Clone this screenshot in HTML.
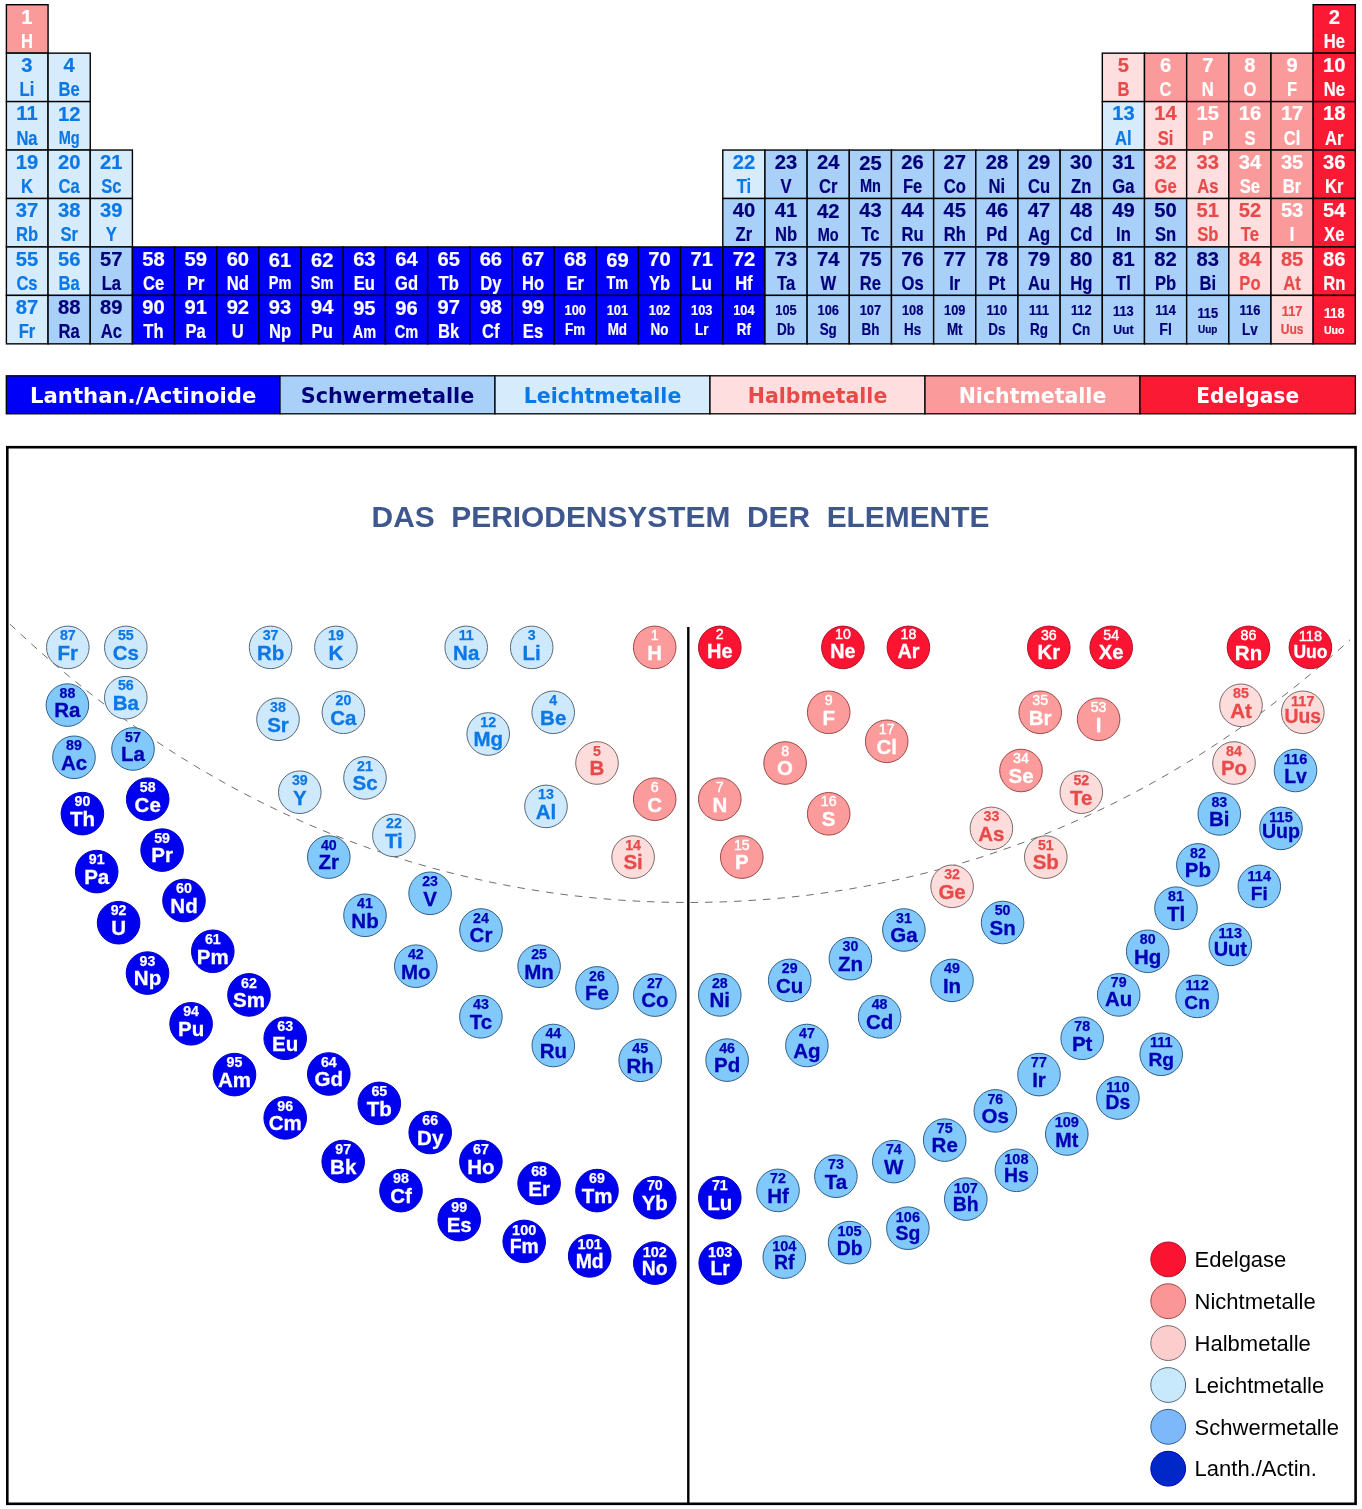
<!DOCTYPE html>
<html lang="de"><head><meta charset="utf-8"><title>Das Periodensystem der Elemente</title>
<style>html,body{margin:0;padding:0;background:#fff}svg{display:block}</style></head>
<body>
<svg width="1362" height="1509" viewBox="0 0 1362 1509" font-family="'Liberation Sans', Arial, sans-serif" font-weight="bold" text-anchor="middle">
<defs>
</defs>
<g stroke="#000" stroke-width="1.4">
<rect x="6.40" y="4.70" width="41.67" height="48.45" fill="#fb9a9a"/>
<rect x="1313.17" y="4.70" width="42.17" height="48.45" fill="#fb1a34"/>
<rect x="6.40" y="53.15" width="41.67" height="48.45" fill="#d6ebfb"/>
<rect x="48.07" y="53.15" width="42.17" height="48.45" fill="#d6ebfb"/>
<rect x="1102.32" y="53.15" width="42.17" height="48.45" fill="#fedede"/>
<rect x="1144.49" y="53.15" width="42.17" height="48.45" fill="#fb9a9a"/>
<rect x="1186.66" y="53.15" width="42.17" height="48.45" fill="#fb9a9a"/>
<rect x="1228.83" y="53.15" width="42.17" height="48.45" fill="#fb9a9a"/>
<rect x="1271.00" y="53.15" width="42.17" height="48.45" fill="#fb9a9a"/>
<rect x="1313.17" y="53.15" width="42.17" height="48.45" fill="#fb1a34"/>
<rect x="6.40" y="101.60" width="41.67" height="48.45" fill="#d6ebfb"/>
<rect x="48.07" y="101.60" width="42.17" height="48.45" fill="#d6ebfb"/>
<rect x="1102.32" y="101.60" width="42.17" height="48.45" fill="#d6ebfb"/>
<rect x="1144.49" y="101.60" width="42.17" height="48.45" fill="#fedede"/>
<rect x="1186.66" y="101.60" width="42.17" height="48.45" fill="#fb9a9a"/>
<rect x="1228.83" y="101.60" width="42.17" height="48.45" fill="#fb9a9a"/>
<rect x="1271.00" y="101.60" width="42.17" height="48.45" fill="#fb9a9a"/>
<rect x="1313.17" y="101.60" width="42.17" height="48.45" fill="#fb1a34"/>
<rect x="6.40" y="150.05" width="41.67" height="48.45" fill="#d6ebfb"/>
<rect x="48.07" y="150.05" width="42.17" height="48.45" fill="#d6ebfb"/>
<rect x="90.24" y="150.05" width="42.17" height="48.45" fill="#d6ebfb"/>
<rect x="722.79" y="150.05" width="42.17" height="48.45" fill="#d6ebfb"/>
<rect x="764.96" y="150.05" width="42.17" height="48.45" fill="#a9d0f8"/>
<rect x="807.13" y="150.05" width="42.17" height="48.45" fill="#a9d0f8"/>
<rect x="849.30" y="150.05" width="42.17" height="48.45" fill="#a9d0f8"/>
<rect x="891.47" y="150.05" width="42.17" height="48.45" fill="#a9d0f8"/>
<rect x="933.64" y="150.05" width="42.17" height="48.45" fill="#a9d0f8"/>
<rect x="975.81" y="150.05" width="42.17" height="48.45" fill="#a9d0f8"/>
<rect x="1017.98" y="150.05" width="42.17" height="48.45" fill="#a9d0f8"/>
<rect x="1060.15" y="150.05" width="42.17" height="48.45" fill="#a9d0f8"/>
<rect x="1102.32" y="150.05" width="42.17" height="48.45" fill="#a9d0f8"/>
<rect x="1144.49" y="150.05" width="42.17" height="48.45" fill="#fedede"/>
<rect x="1186.66" y="150.05" width="42.17" height="48.45" fill="#fedede"/>
<rect x="1228.83" y="150.05" width="42.17" height="48.45" fill="#fb9a9a"/>
<rect x="1271.00" y="150.05" width="42.17" height="48.45" fill="#fb9a9a"/>
<rect x="1313.17" y="150.05" width="42.17" height="48.45" fill="#fb1a34"/>
<rect x="6.40" y="198.50" width="41.67" height="48.45" fill="#d6ebfb"/>
<rect x="48.07" y="198.50" width="42.17" height="48.45" fill="#d6ebfb"/>
<rect x="90.24" y="198.50" width="42.17" height="48.45" fill="#d6ebfb"/>
<rect x="722.79" y="198.50" width="42.17" height="48.45" fill="#a9d0f8"/>
<rect x="764.96" y="198.50" width="42.17" height="48.45" fill="#a9d0f8"/>
<rect x="807.13" y="198.50" width="42.17" height="48.45" fill="#a9d0f8"/>
<rect x="849.30" y="198.50" width="42.17" height="48.45" fill="#a9d0f8"/>
<rect x="891.47" y="198.50" width="42.17" height="48.45" fill="#a9d0f8"/>
<rect x="933.64" y="198.50" width="42.17" height="48.45" fill="#a9d0f8"/>
<rect x="975.81" y="198.50" width="42.17" height="48.45" fill="#a9d0f8"/>
<rect x="1017.98" y="198.50" width="42.17" height="48.45" fill="#a9d0f8"/>
<rect x="1060.15" y="198.50" width="42.17" height="48.45" fill="#a9d0f8"/>
<rect x="1102.32" y="198.50" width="42.17" height="48.45" fill="#a9d0f8"/>
<rect x="1144.49" y="198.50" width="42.17" height="48.45" fill="#a9d0f8"/>
<rect x="1186.66" y="198.50" width="42.17" height="48.45" fill="#fedede"/>
<rect x="1228.83" y="198.50" width="42.17" height="48.45" fill="#fedede"/>
<rect x="1271.00" y="198.50" width="42.17" height="48.45" fill="#fb9a9a"/>
<rect x="1313.17" y="198.50" width="42.17" height="48.45" fill="#fb1a34"/>
<rect x="6.40" y="246.95" width="41.67" height="48.45" fill="#d6ebfb"/>
<rect x="48.07" y="246.95" width="42.17" height="48.45" fill="#d6ebfb"/>
<rect x="90.24" y="246.95" width="42.17" height="48.45" fill="#a9d0f8"/>
<rect x="132.41" y="246.95" width="42.17" height="48.45" fill="#0000f8"/>
<rect x="174.58" y="246.95" width="42.17" height="48.45" fill="#0000f8"/>
<rect x="216.75" y="246.95" width="42.17" height="48.45" fill="#0000f8"/>
<rect x="258.92" y="246.95" width="42.17" height="48.45" fill="#0000f8"/>
<rect x="301.09" y="246.95" width="42.17" height="48.45" fill="#0000f8"/>
<rect x="343.26" y="246.95" width="42.17" height="48.45" fill="#0000f8"/>
<rect x="385.43" y="246.95" width="42.17" height="48.45" fill="#0000f8"/>
<rect x="427.60" y="246.95" width="42.17" height="48.45" fill="#0000f8"/>
<rect x="469.77" y="246.95" width="42.17" height="48.45" fill="#0000f8"/>
<rect x="511.94" y="246.95" width="42.17" height="48.45" fill="#0000f8"/>
<rect x="554.11" y="246.95" width="42.17" height="48.45" fill="#0000f8"/>
<rect x="596.28" y="246.95" width="42.17" height="48.45" fill="#0000f8"/>
<rect x="638.45" y="246.95" width="42.17" height="48.45" fill="#0000f8"/>
<rect x="680.62" y="246.95" width="42.17" height="48.45" fill="#0000f8"/>
<rect x="722.79" y="246.95" width="42.17" height="48.45" fill="#0000f8"/>
<rect x="764.96" y="246.95" width="42.17" height="48.45" fill="#a9d0f8"/>
<rect x="807.13" y="246.95" width="42.17" height="48.45" fill="#a9d0f8"/>
<rect x="849.30" y="246.95" width="42.17" height="48.45" fill="#a9d0f8"/>
<rect x="891.47" y="246.95" width="42.17" height="48.45" fill="#a9d0f8"/>
<rect x="933.64" y="246.95" width="42.17" height="48.45" fill="#a9d0f8"/>
<rect x="975.81" y="246.95" width="42.17" height="48.45" fill="#a9d0f8"/>
<rect x="1017.98" y="246.95" width="42.17" height="48.45" fill="#a9d0f8"/>
<rect x="1060.15" y="246.95" width="42.17" height="48.45" fill="#a9d0f8"/>
<rect x="1102.32" y="246.95" width="42.17" height="48.45" fill="#a9d0f8"/>
<rect x="1144.49" y="246.95" width="42.17" height="48.45" fill="#a9d0f8"/>
<rect x="1186.66" y="246.95" width="42.17" height="48.45" fill="#a9d0f8"/>
<rect x="1228.83" y="246.95" width="42.17" height="48.45" fill="#fedede"/>
<rect x="1271.00" y="246.95" width="42.17" height="48.45" fill="#fedede"/>
<rect x="1313.17" y="246.95" width="42.17" height="48.45" fill="#fb1a34"/>
<rect x="6.40" y="295.40" width="41.67" height="48.45" fill="#d6ebfb"/>
<rect x="48.07" y="295.40" width="42.17" height="48.45" fill="#a9d0f8"/>
<rect x="90.24" y="295.40" width="42.17" height="48.45" fill="#a9d0f8"/>
<rect x="132.41" y="295.40" width="42.17" height="48.45" fill="#0000f8"/>
<rect x="174.58" y="295.40" width="42.17" height="48.45" fill="#0000f8"/>
<rect x="216.75" y="295.40" width="42.17" height="48.45" fill="#0000f8"/>
<rect x="258.92" y="295.40" width="42.17" height="48.45" fill="#0000f8"/>
<rect x="301.09" y="295.40" width="42.17" height="48.45" fill="#0000f8"/>
<rect x="343.26" y="295.40" width="42.17" height="48.45" fill="#0000f8"/>
<rect x="385.43" y="295.40" width="42.17" height="48.45" fill="#0000f8"/>
<rect x="427.60" y="295.40" width="42.17" height="48.45" fill="#0000f8"/>
<rect x="469.77" y="295.40" width="42.17" height="48.45" fill="#0000f8"/>
<rect x="511.94" y="295.40" width="42.17" height="48.45" fill="#0000f8"/>
<rect x="554.11" y="295.40" width="42.17" height="48.45" fill="#0000f8"/>
<rect x="596.28" y="295.40" width="42.17" height="48.45" fill="#0000f8"/>
<rect x="638.45" y="295.40" width="42.17" height="48.45" fill="#0000f8"/>
<rect x="680.62" y="295.40" width="42.17" height="48.45" fill="#0000f8"/>
<rect x="722.79" y="295.40" width="42.17" height="48.45" fill="#0000f8"/>
<rect x="764.96" y="295.40" width="42.17" height="48.45" fill="#a9d0f8"/>
<rect x="807.13" y="295.40" width="42.17" height="48.45" fill="#a9d0f8"/>
<rect x="849.30" y="295.40" width="42.17" height="48.45" fill="#a9d0f8"/>
<rect x="891.47" y="295.40" width="42.17" height="48.45" fill="#a9d0f8"/>
<rect x="933.64" y="295.40" width="42.17" height="48.45" fill="#a9d0f8"/>
<rect x="975.81" y="295.40" width="42.17" height="48.45" fill="#a9d0f8"/>
<rect x="1017.98" y="295.40" width="42.17" height="48.45" fill="#a9d0f8"/>
<rect x="1060.15" y="295.40" width="42.17" height="48.45" fill="#a9d0f8"/>
<rect x="1102.32" y="295.40" width="42.17" height="48.45" fill="#a9d0f8"/>
<rect x="1144.49" y="295.40" width="42.17" height="48.45" fill="#a9d0f8"/>
<rect x="1186.66" y="295.40" width="42.17" height="48.45" fill="#a9d0f8"/>
<rect x="1228.83" y="295.40" width="42.17" height="48.45" fill="#a9d0f8"/>
<rect x="1271.00" y="295.40" width="42.17" height="48.45" fill="#fedede"/>
<rect x="1313.17" y="295.40" width="42.17" height="48.45" fill="#fb1a34"/>
</g>
<text transform="translate(26.98 23.50) scale(1.03 1)" font-size="19.6" fill="#ffffff" stroke="#ffffff" stroke-width="0.2">1</text>
<text transform="translate(26.98 47.60) scale(0.83 1)" font-size="20" fill="#ffffff" stroke="#ffffff" stroke-width="0.2">H</text>
<text transform="translate(1334.26 23.50) scale(1.03 1)" font-size="19.6" fill="#ffffff" stroke="#ffffff" stroke-width="0.2">2</text>
<text transform="translate(1334.26 47.60) scale(0.83 1)" font-size="20" fill="#ffffff" stroke="#ffffff" stroke-width="0.2">He</text>
<text transform="translate(26.98 71.95) scale(1.03 1)" font-size="19.6" fill="#0c78e6" stroke="#0c78e6" stroke-width="0.2">3</text>
<text transform="translate(26.98 96.05) scale(0.83 1)" font-size="20" fill="#0c78e6" stroke="#0c78e6" stroke-width="0.2">Li</text>
<text transform="translate(69.16 71.95) scale(1.03 1)" font-size="19.6" fill="#0c78e6" stroke="#0c78e6" stroke-width="0.2">4</text>
<text transform="translate(69.16 96.05) scale(0.83 1)" font-size="20" fill="#0c78e6" stroke="#0c78e6" stroke-width="0.2">Be</text>
<text transform="translate(1123.41 71.95) scale(1.03 1)" font-size="19.6" fill="#e84a4a" stroke="#e84a4a" stroke-width="0.2">5</text>
<text transform="translate(1123.41 96.05) scale(0.83 1)" font-size="20" fill="#e84a4a" stroke="#e84a4a" stroke-width="0.2">B</text>
<text transform="translate(1165.58 71.95) scale(1.03 1)" font-size="19.6" fill="#ffffff" stroke="#ffffff" stroke-width="0.2">6</text>
<text transform="translate(1165.58 96.05) scale(0.83 1)" font-size="20" fill="#ffffff" stroke="#ffffff" stroke-width="0.2">C</text>
<text transform="translate(1207.75 71.95) scale(1.03 1)" font-size="19.6" fill="#ffffff" stroke="#ffffff" stroke-width="0.2">7</text>
<text transform="translate(1207.75 96.05) scale(0.83 1)" font-size="20" fill="#ffffff" stroke="#ffffff" stroke-width="0.2">N</text>
<text transform="translate(1249.92 71.95) scale(1.03 1)" font-size="19.6" fill="#ffffff" stroke="#ffffff" stroke-width="0.2">8</text>
<text transform="translate(1249.92 96.05) scale(0.83 1)" font-size="20" fill="#ffffff" stroke="#ffffff" stroke-width="0.2">O</text>
<text transform="translate(1292.09 71.95) scale(1.03 1)" font-size="19.6" fill="#ffffff" stroke="#ffffff" stroke-width="0.2">9</text>
<text transform="translate(1292.09 96.05) scale(0.83 1)" font-size="20" fill="#ffffff" stroke="#ffffff" stroke-width="0.2">F</text>
<text transform="translate(1334.26 71.95) scale(1.03 1)" font-size="19.6" fill="#ffffff" stroke="#ffffff" stroke-width="0.2">10</text>
<text transform="translate(1334.26 96.05) scale(0.83 1)" font-size="20" fill="#ffffff" stroke="#ffffff" stroke-width="0.2">Ne</text>
<text transform="translate(26.98 120.40) scale(1.03 1)" font-size="19.6" fill="#0c78e6" stroke="#0c78e6" stroke-width="0.2">11</text>
<text transform="translate(26.98 144.50) scale(0.83 1)" font-size="20" fill="#0c78e6" stroke="#0c78e6" stroke-width="0.2">Na</text>
<text transform="translate(69.16 121.20) scale(1.03 1)" font-size="19.6" fill="#0c78e6" stroke="#0c78e6" stroke-width="0.2">12</text>
<text transform="translate(69.16 144.00) scale(0.83 1)" font-size="17.5" fill="#0c78e6" stroke="#0c78e6" stroke-width="0.2">Mg</text>
<text transform="translate(1123.41 120.40) scale(1.03 1)" font-size="19.6" fill="#0c78e6" stroke="#0c78e6" stroke-width="0.2">13</text>
<text transform="translate(1123.41 144.50) scale(0.83 1)" font-size="20" fill="#0c78e6" stroke="#0c78e6" stroke-width="0.2">Al</text>
<text transform="translate(1165.58 120.40) scale(1.03 1)" font-size="19.6" fill="#e84a4a" stroke="#e84a4a" stroke-width="0.2">14</text>
<text transform="translate(1165.58 144.50) scale(0.83 1)" font-size="20" fill="#e84a4a" stroke="#e84a4a" stroke-width="0.2">Si</text>
<text transform="translate(1207.75 120.40) scale(1.03 1)" font-size="19.6" fill="#ffffff" stroke="#ffffff" stroke-width="0.2">15</text>
<text transform="translate(1207.75 144.50) scale(0.83 1)" font-size="20" fill="#ffffff" stroke="#ffffff" stroke-width="0.2">P</text>
<text transform="translate(1249.92 120.40) scale(1.03 1)" font-size="19.6" fill="#ffffff" stroke="#ffffff" stroke-width="0.2">16</text>
<text transform="translate(1249.92 144.50) scale(0.83 1)" font-size="20" fill="#ffffff" stroke="#ffffff" stroke-width="0.2">S</text>
<text transform="translate(1292.09 120.40) scale(1.03 1)" font-size="19.6" fill="#ffffff" stroke="#ffffff" stroke-width="0.2">17</text>
<text transform="translate(1292.09 144.50) scale(0.83 1)" font-size="20" fill="#ffffff" stroke="#ffffff" stroke-width="0.2">Cl</text>
<text transform="translate(1334.26 120.40) scale(1.03 1)" font-size="19.6" fill="#ffffff" stroke="#ffffff" stroke-width="0.2">18</text>
<text transform="translate(1334.26 144.50) scale(0.83 1)" font-size="20" fill="#ffffff" stroke="#ffffff" stroke-width="0.2">Ar</text>
<text transform="translate(26.98 168.85) scale(1.03 1)" font-size="19.6" fill="#0c78e6" stroke="#0c78e6" stroke-width="0.2">19</text>
<text transform="translate(26.98 192.95) scale(0.83 1)" font-size="20" fill="#0c78e6" stroke="#0c78e6" stroke-width="0.2">K</text>
<text transform="translate(69.16 168.85) scale(1.03 1)" font-size="19.6" fill="#0c78e6" stroke="#0c78e6" stroke-width="0.2">20</text>
<text transform="translate(69.16 192.95) scale(0.83 1)" font-size="20" fill="#0c78e6" stroke="#0c78e6" stroke-width="0.2">Ca</text>
<text transform="translate(111.33 168.85) scale(1.03 1)" font-size="19.6" fill="#0c78e6" stroke="#0c78e6" stroke-width="0.2">21</text>
<text transform="translate(111.33 192.95) scale(0.83 1)" font-size="20" fill="#0c78e6" stroke="#0c78e6" stroke-width="0.2">Sc</text>
<text transform="translate(743.88 168.85) scale(1.03 1)" font-size="19.6" fill="#0c78e6" stroke="#0c78e6" stroke-width="0.2">22</text>
<text transform="translate(743.88 192.95) scale(0.83 1)" font-size="20" fill="#0c78e6" stroke="#0c78e6" stroke-width="0.2">Ti</text>
<text transform="translate(786.05 168.85) scale(1.03 1)" font-size="19.6" fill="#000078" stroke="#000078" stroke-width="0.2">23</text>
<text transform="translate(786.05 192.95) scale(0.83 1)" font-size="20" fill="#000078" stroke="#000078" stroke-width="0.2">V</text>
<text transform="translate(828.22 168.85) scale(1.03 1)" font-size="19.6" fill="#000078" stroke="#000078" stroke-width="0.2">24</text>
<text transform="translate(828.22 192.95) scale(0.83 1)" font-size="20" fill="#000078" stroke="#000078" stroke-width="0.2">Cr</text>
<text transform="translate(870.39 169.65) scale(1.03 1)" font-size="19.6" fill="#000078" stroke="#000078" stroke-width="0.2">25</text>
<text transform="translate(870.39 192.45) scale(0.83 1)" font-size="17.5" fill="#000078" stroke="#000078" stroke-width="0.2">Mn</text>
<text transform="translate(912.56 168.85) scale(1.03 1)" font-size="19.6" fill="#000078" stroke="#000078" stroke-width="0.2">26</text>
<text transform="translate(912.56 192.95) scale(0.83 1)" font-size="20" fill="#000078" stroke="#000078" stroke-width="0.2">Fe</text>
<text transform="translate(954.73 168.85) scale(1.03 1)" font-size="19.6" fill="#000078" stroke="#000078" stroke-width="0.2">27</text>
<text transform="translate(954.73 192.95) scale(0.83 1)" font-size="20" fill="#000078" stroke="#000078" stroke-width="0.2">Co</text>
<text transform="translate(996.90 168.85) scale(1.03 1)" font-size="19.6" fill="#000078" stroke="#000078" stroke-width="0.2">28</text>
<text transform="translate(996.90 192.95) scale(0.83 1)" font-size="20" fill="#000078" stroke="#000078" stroke-width="0.2">Ni</text>
<text transform="translate(1039.07 168.85) scale(1.03 1)" font-size="19.6" fill="#000078" stroke="#000078" stroke-width="0.2">29</text>
<text transform="translate(1039.07 192.95) scale(0.83 1)" font-size="20" fill="#000078" stroke="#000078" stroke-width="0.2">Cu</text>
<text transform="translate(1081.24 168.85) scale(1.03 1)" font-size="19.6" fill="#000078" stroke="#000078" stroke-width="0.2">30</text>
<text transform="translate(1081.24 192.95) scale(0.83 1)" font-size="20" fill="#000078" stroke="#000078" stroke-width="0.2">Zn</text>
<text transform="translate(1123.41 168.85) scale(1.03 1)" font-size="19.6" fill="#000078" stroke="#000078" stroke-width="0.2">31</text>
<text transform="translate(1123.41 192.95) scale(0.83 1)" font-size="20" fill="#000078" stroke="#000078" stroke-width="0.2">Ga</text>
<text transform="translate(1165.58 168.85) scale(1.03 1)" font-size="19.6" fill="#e84a4a" stroke="#e84a4a" stroke-width="0.2">32</text>
<text transform="translate(1165.58 192.95) scale(0.83 1)" font-size="20" fill="#e84a4a" stroke="#e84a4a" stroke-width="0.2">Ge</text>
<text transform="translate(1207.75 168.85) scale(1.03 1)" font-size="19.6" fill="#e84a4a" stroke="#e84a4a" stroke-width="0.2">33</text>
<text transform="translate(1207.75 192.95) scale(0.83 1)" font-size="20" fill="#e84a4a" stroke="#e84a4a" stroke-width="0.2">As</text>
<text transform="translate(1249.92 168.85) scale(1.03 1)" font-size="19.6" fill="#ffffff" stroke="#ffffff" stroke-width="0.2">34</text>
<text transform="translate(1249.92 192.95) scale(0.83 1)" font-size="20" fill="#ffffff" stroke="#ffffff" stroke-width="0.2">Se</text>
<text transform="translate(1292.09 168.85) scale(1.03 1)" font-size="19.6" fill="#ffffff" stroke="#ffffff" stroke-width="0.2">35</text>
<text transform="translate(1292.09 192.95) scale(0.83 1)" font-size="20" fill="#ffffff" stroke="#ffffff" stroke-width="0.2">Br</text>
<text transform="translate(1334.26 168.85) scale(1.03 1)" font-size="19.6" fill="#ffffff" stroke="#ffffff" stroke-width="0.2">36</text>
<text transform="translate(1334.26 192.95) scale(0.83 1)" font-size="20" fill="#ffffff" stroke="#ffffff" stroke-width="0.2">Kr</text>
<text transform="translate(26.98 217.30) scale(1.03 1)" font-size="19.6" fill="#0c78e6" stroke="#0c78e6" stroke-width="0.2">37</text>
<text transform="translate(26.98 241.40) scale(0.83 1)" font-size="20" fill="#0c78e6" stroke="#0c78e6" stroke-width="0.2">Rb</text>
<text transform="translate(69.16 217.30) scale(1.03 1)" font-size="19.6" fill="#0c78e6" stroke="#0c78e6" stroke-width="0.2">38</text>
<text transform="translate(69.16 241.40) scale(0.83 1)" font-size="20" fill="#0c78e6" stroke="#0c78e6" stroke-width="0.2">Sr</text>
<text transform="translate(111.33 217.30) scale(1.03 1)" font-size="19.6" fill="#0c78e6" stroke="#0c78e6" stroke-width="0.2">39</text>
<text transform="translate(111.33 241.40) scale(0.83 1)" font-size="20" fill="#0c78e6" stroke="#0c78e6" stroke-width="0.2">Y</text>
<text transform="translate(743.88 217.30) scale(1.03 1)" font-size="19.6" fill="#000078" stroke="#000078" stroke-width="0.2">40</text>
<text transform="translate(743.88 241.40) scale(0.83 1)" font-size="20" fill="#000078" stroke="#000078" stroke-width="0.2">Zr</text>
<text transform="translate(786.05 217.30) scale(1.03 1)" font-size="19.6" fill="#000078" stroke="#000078" stroke-width="0.2">41</text>
<text transform="translate(786.05 241.40) scale(0.83 1)" font-size="20" fill="#000078" stroke="#000078" stroke-width="0.2">Nb</text>
<text transform="translate(828.22 218.10) scale(1.03 1)" font-size="19.6" fill="#000078" stroke="#000078" stroke-width="0.2">42</text>
<text transform="translate(828.22 240.90) scale(0.83 1)" font-size="17.5" fill="#000078" stroke="#000078" stroke-width="0.2">Mo</text>
<text transform="translate(870.39 217.30) scale(1.03 1)" font-size="19.6" fill="#000078" stroke="#000078" stroke-width="0.2">43</text>
<text transform="translate(870.39 241.40) scale(0.83 1)" font-size="20" fill="#000078" stroke="#000078" stroke-width="0.2">Tc</text>
<text transform="translate(912.56 217.30) scale(1.03 1)" font-size="19.6" fill="#000078" stroke="#000078" stroke-width="0.2">44</text>
<text transform="translate(912.56 241.40) scale(0.83 1)" font-size="20" fill="#000078" stroke="#000078" stroke-width="0.2">Ru</text>
<text transform="translate(954.73 217.30) scale(1.03 1)" font-size="19.6" fill="#000078" stroke="#000078" stroke-width="0.2">45</text>
<text transform="translate(954.73 241.40) scale(0.83 1)" font-size="20" fill="#000078" stroke="#000078" stroke-width="0.2">Rh</text>
<text transform="translate(996.90 217.30) scale(1.03 1)" font-size="19.6" fill="#000078" stroke="#000078" stroke-width="0.2">46</text>
<text transform="translate(996.90 241.40) scale(0.83 1)" font-size="20" fill="#000078" stroke="#000078" stroke-width="0.2">Pd</text>
<text transform="translate(1039.07 217.30) scale(1.03 1)" font-size="19.6" fill="#000078" stroke="#000078" stroke-width="0.2">47</text>
<text transform="translate(1039.07 241.40) scale(0.83 1)" font-size="20" fill="#000078" stroke="#000078" stroke-width="0.2">Ag</text>
<text transform="translate(1081.24 217.30) scale(1.03 1)" font-size="19.6" fill="#000078" stroke="#000078" stroke-width="0.2">48</text>
<text transform="translate(1081.24 241.40) scale(0.83 1)" font-size="20" fill="#000078" stroke="#000078" stroke-width="0.2">Cd</text>
<text transform="translate(1123.41 217.30) scale(1.03 1)" font-size="19.6" fill="#000078" stroke="#000078" stroke-width="0.2">49</text>
<text transform="translate(1123.41 241.40) scale(0.83 1)" font-size="20" fill="#000078" stroke="#000078" stroke-width="0.2">In</text>
<text transform="translate(1165.58 217.30) scale(1.03 1)" font-size="19.6" fill="#000078" stroke="#000078" stroke-width="0.2">50</text>
<text transform="translate(1165.58 241.40) scale(0.83 1)" font-size="20" fill="#000078" stroke="#000078" stroke-width="0.2">Sn</text>
<text transform="translate(1207.75 217.30) scale(1.03 1)" font-size="19.6" fill="#e84a4a" stroke="#e84a4a" stroke-width="0.2">51</text>
<text transform="translate(1207.75 241.40) scale(0.83 1)" font-size="20" fill="#e84a4a" stroke="#e84a4a" stroke-width="0.2">Sb</text>
<text transform="translate(1249.92 217.30) scale(1.03 1)" font-size="19.6" fill="#e84a4a" stroke="#e84a4a" stroke-width="0.2">52</text>
<text transform="translate(1249.92 241.40) scale(0.83 1)" font-size="20" fill="#e84a4a" stroke="#e84a4a" stroke-width="0.2">Te</text>
<text transform="translate(1292.09 217.30) scale(1.03 1)" font-size="19.6" fill="#ffffff" stroke="#ffffff" stroke-width="0.2">53</text>
<text transform="translate(1292.09 241.40) scale(0.83 1)" font-size="20" fill="#ffffff" stroke="#ffffff" stroke-width="0.2">I</text>
<text transform="translate(1334.26 217.30) scale(1.03 1)" font-size="19.6" fill="#ffffff" stroke="#ffffff" stroke-width="0.2">54</text>
<text transform="translate(1334.26 241.40) scale(0.83 1)" font-size="20" fill="#ffffff" stroke="#ffffff" stroke-width="0.2">Xe</text>
<text transform="translate(26.98 265.75) scale(1.03 1)" font-size="19.6" fill="#0c78e6" stroke="#0c78e6" stroke-width="0.2">55</text>
<text transform="translate(26.98 289.85) scale(0.83 1)" font-size="20" fill="#0c78e6" stroke="#0c78e6" stroke-width="0.2">Cs</text>
<text transform="translate(69.16 265.75) scale(1.03 1)" font-size="19.6" fill="#0c78e6" stroke="#0c78e6" stroke-width="0.2">56</text>
<text transform="translate(69.16 289.85) scale(0.83 1)" font-size="20" fill="#0c78e6" stroke="#0c78e6" stroke-width="0.2">Ba</text>
<text transform="translate(111.33 265.75) scale(1.03 1)" font-size="19.6" fill="#000078" stroke="#000078" stroke-width="0.2">57</text>
<text transform="translate(111.33 289.85) scale(0.83 1)" font-size="20" fill="#000078" stroke="#000078" stroke-width="0.2">La</text>
<text transform="translate(153.50 265.75) scale(1.03 1)" font-size="19.6" fill="#ffffff" stroke="#ffffff" stroke-width="0.2">58</text>
<text transform="translate(153.50 289.85) scale(0.83 1)" font-size="20" fill="#ffffff" stroke="#ffffff" stroke-width="0.2">Ce</text>
<text transform="translate(195.67 265.75) scale(1.03 1)" font-size="19.6" fill="#ffffff" stroke="#ffffff" stroke-width="0.2">59</text>
<text transform="translate(195.67 289.85) scale(0.83 1)" font-size="20" fill="#ffffff" stroke="#ffffff" stroke-width="0.2">Pr</text>
<text transform="translate(237.84 265.75) scale(1.03 1)" font-size="19.6" fill="#ffffff" stroke="#ffffff" stroke-width="0.2">60</text>
<text transform="translate(237.84 289.85) scale(0.83 1)" font-size="20" fill="#ffffff" stroke="#ffffff" stroke-width="0.2">Nd</text>
<text transform="translate(280.00 266.55) scale(1.03 1)" font-size="19.6" fill="#ffffff" stroke="#ffffff" stroke-width="0.2">61</text>
<text transform="translate(280.00 289.35) scale(0.83 1)" font-size="17.5" fill="#ffffff" stroke="#ffffff" stroke-width="0.2">Pm</text>
<text transform="translate(322.17 266.55) scale(1.03 1)" font-size="19.6" fill="#ffffff" stroke="#ffffff" stroke-width="0.2">62</text>
<text transform="translate(322.17 289.35) scale(0.83 1)" font-size="17.5" fill="#ffffff" stroke="#ffffff" stroke-width="0.2">Sm</text>
<text transform="translate(364.34 265.75) scale(1.03 1)" font-size="19.6" fill="#ffffff" stroke="#ffffff" stroke-width="0.2">63</text>
<text transform="translate(364.34 289.85) scale(0.83 1)" font-size="20" fill="#ffffff" stroke="#ffffff" stroke-width="0.2">Eu</text>
<text transform="translate(406.51 265.75) scale(1.03 1)" font-size="19.6" fill="#ffffff" stroke="#ffffff" stroke-width="0.2">64</text>
<text transform="translate(406.51 289.85) scale(0.83 1)" font-size="20" fill="#ffffff" stroke="#ffffff" stroke-width="0.2">Gd</text>
<text transform="translate(448.69 265.75) scale(1.03 1)" font-size="19.6" fill="#ffffff" stroke="#ffffff" stroke-width="0.2">65</text>
<text transform="translate(448.69 289.85) scale(0.83 1)" font-size="20" fill="#ffffff" stroke="#ffffff" stroke-width="0.2">Tb</text>
<text transform="translate(490.85 265.75) scale(1.03 1)" font-size="19.6" fill="#ffffff" stroke="#ffffff" stroke-width="0.2">66</text>
<text transform="translate(490.85 289.85) scale(0.83 1)" font-size="20" fill="#ffffff" stroke="#ffffff" stroke-width="0.2">Dy</text>
<text transform="translate(533.02 265.75) scale(1.03 1)" font-size="19.6" fill="#ffffff" stroke="#ffffff" stroke-width="0.2">67</text>
<text transform="translate(533.02 289.85) scale(0.83 1)" font-size="20" fill="#ffffff" stroke="#ffffff" stroke-width="0.2">Ho</text>
<text transform="translate(575.20 265.75) scale(1.03 1)" font-size="19.6" fill="#ffffff" stroke="#ffffff" stroke-width="0.2">68</text>
<text transform="translate(575.20 289.85) scale(0.83 1)" font-size="20" fill="#ffffff" stroke="#ffffff" stroke-width="0.2">Er</text>
<text transform="translate(617.37 266.55) scale(1.03 1)" font-size="19.6" fill="#ffffff" stroke="#ffffff" stroke-width="0.2">69</text>
<text transform="translate(617.37 289.35) scale(0.83 1)" font-size="17.5" fill="#ffffff" stroke="#ffffff" stroke-width="0.2">Tm</text>
<text transform="translate(659.54 265.75) scale(1.03 1)" font-size="19.6" fill="#ffffff" stroke="#ffffff" stroke-width="0.2">70</text>
<text transform="translate(659.54 289.85) scale(0.83 1)" font-size="20" fill="#ffffff" stroke="#ffffff" stroke-width="0.2">Yb</text>
<text transform="translate(701.71 265.75) scale(1.03 1)" font-size="19.6" fill="#ffffff" stroke="#ffffff" stroke-width="0.2">71</text>
<text transform="translate(701.71 289.85) scale(0.83 1)" font-size="20" fill="#ffffff" stroke="#ffffff" stroke-width="0.2">Lu</text>
<text transform="translate(743.88 265.75) scale(1.03 1)" font-size="19.6" fill="#ffffff" stroke="#ffffff" stroke-width="0.2">72</text>
<text transform="translate(743.88 289.85) scale(0.83 1)" font-size="20" fill="#ffffff" stroke="#ffffff" stroke-width="0.2">Hf</text>
<text transform="translate(786.05 265.75) scale(1.03 1)" font-size="19.6" fill="#000078" stroke="#000078" stroke-width="0.2">73</text>
<text transform="translate(786.05 289.85) scale(0.83 1)" font-size="20" fill="#000078" stroke="#000078" stroke-width="0.2">Ta</text>
<text transform="translate(828.22 265.75) scale(1.03 1)" font-size="19.6" fill="#000078" stroke="#000078" stroke-width="0.2">74</text>
<text transform="translate(828.22 289.85) scale(0.83 1)" font-size="20" fill="#000078" stroke="#000078" stroke-width="0.2">W</text>
<text transform="translate(870.39 265.75) scale(1.03 1)" font-size="19.6" fill="#000078" stroke="#000078" stroke-width="0.2">75</text>
<text transform="translate(870.39 289.85) scale(0.83 1)" font-size="20" fill="#000078" stroke="#000078" stroke-width="0.2">Re</text>
<text transform="translate(912.56 265.75) scale(1.03 1)" font-size="19.6" fill="#000078" stroke="#000078" stroke-width="0.2">76</text>
<text transform="translate(912.56 289.85) scale(0.83 1)" font-size="20" fill="#000078" stroke="#000078" stroke-width="0.2">Os</text>
<text transform="translate(954.73 265.75) scale(1.03 1)" font-size="19.6" fill="#000078" stroke="#000078" stroke-width="0.2">77</text>
<text transform="translate(954.73 289.85) scale(0.83 1)" font-size="20" fill="#000078" stroke="#000078" stroke-width="0.2">Ir</text>
<text transform="translate(996.90 265.75) scale(1.03 1)" font-size="19.6" fill="#000078" stroke="#000078" stroke-width="0.2">78</text>
<text transform="translate(996.90 289.85) scale(0.83 1)" font-size="20" fill="#000078" stroke="#000078" stroke-width="0.2">Pt</text>
<text transform="translate(1039.07 265.75) scale(1.03 1)" font-size="19.6" fill="#000078" stroke="#000078" stroke-width="0.2">79</text>
<text transform="translate(1039.07 289.85) scale(0.83 1)" font-size="20" fill="#000078" stroke="#000078" stroke-width="0.2">Au</text>
<text transform="translate(1081.24 265.75) scale(1.03 1)" font-size="19.6" fill="#000078" stroke="#000078" stroke-width="0.2">80</text>
<text transform="translate(1081.24 289.85) scale(0.83 1)" font-size="20" fill="#000078" stroke="#000078" stroke-width="0.2">Hg</text>
<text transform="translate(1123.41 265.75) scale(1.03 1)" font-size="19.6" fill="#000078" stroke="#000078" stroke-width="0.2">81</text>
<text transform="translate(1123.41 289.85) scale(0.83 1)" font-size="20" fill="#000078" stroke="#000078" stroke-width="0.2">Tl</text>
<text transform="translate(1165.58 265.75) scale(1.03 1)" font-size="19.6" fill="#000078" stroke="#000078" stroke-width="0.2">82</text>
<text transform="translate(1165.58 289.85) scale(0.83 1)" font-size="20" fill="#000078" stroke="#000078" stroke-width="0.2">Pb</text>
<text transform="translate(1207.75 265.75) scale(1.03 1)" font-size="19.6" fill="#000078" stroke="#000078" stroke-width="0.2">83</text>
<text transform="translate(1207.75 289.85) scale(0.83 1)" font-size="20" fill="#000078" stroke="#000078" stroke-width="0.2">Bi</text>
<text transform="translate(1249.92 265.75) scale(1.03 1)" font-size="19.6" fill="#e84a4a" stroke="#e84a4a" stroke-width="0.2">84</text>
<text transform="translate(1249.92 289.85) scale(0.83 1)" font-size="20" fill="#e84a4a" stroke="#e84a4a" stroke-width="0.2">Po</text>
<text transform="translate(1292.09 265.75) scale(1.03 1)" font-size="19.6" fill="#e84a4a" stroke="#e84a4a" stroke-width="0.2">85</text>
<text transform="translate(1292.09 289.85) scale(0.83 1)" font-size="20" fill="#e84a4a" stroke="#e84a4a" stroke-width="0.2">At</text>
<text transform="translate(1334.26 265.75) scale(1.03 1)" font-size="19.6" fill="#ffffff" stroke="#ffffff" stroke-width="0.2">86</text>
<text transform="translate(1334.26 289.85) scale(0.83 1)" font-size="20" fill="#ffffff" stroke="#ffffff" stroke-width="0.2">Rn</text>
<text transform="translate(26.98 314.20) scale(1.03 1)" font-size="19.6" fill="#0c78e6" stroke="#0c78e6" stroke-width="0.2">87</text>
<text transform="translate(26.98 338.30) scale(0.83 1)" font-size="20" fill="#0c78e6" stroke="#0c78e6" stroke-width="0.2">Fr</text>
<text transform="translate(69.16 314.20) scale(1.03 1)" font-size="19.6" fill="#000078" stroke="#000078" stroke-width="0.2">88</text>
<text transform="translate(69.16 338.30) scale(0.83 1)" font-size="20" fill="#000078" stroke="#000078" stroke-width="0.2">Ra</text>
<text transform="translate(111.33 314.20) scale(1.03 1)" font-size="19.6" fill="#000078" stroke="#000078" stroke-width="0.2">89</text>
<text transform="translate(111.33 338.30) scale(0.83 1)" font-size="20" fill="#000078" stroke="#000078" stroke-width="0.2">Ac</text>
<text transform="translate(153.50 314.20) scale(1.03 1)" font-size="19.6" fill="#ffffff" stroke="#ffffff" stroke-width="0.2">90</text>
<text transform="translate(153.50 338.30) scale(0.83 1)" font-size="20" fill="#ffffff" stroke="#ffffff" stroke-width="0.2">Th</text>
<text transform="translate(195.67 314.20) scale(1.03 1)" font-size="19.6" fill="#ffffff" stroke="#ffffff" stroke-width="0.2">91</text>
<text transform="translate(195.67 338.30) scale(0.83 1)" font-size="20" fill="#ffffff" stroke="#ffffff" stroke-width="0.2">Pa</text>
<text transform="translate(237.84 314.20) scale(1.03 1)" font-size="19.6" fill="#ffffff" stroke="#ffffff" stroke-width="0.2">92</text>
<text transform="translate(237.84 338.30) scale(0.83 1)" font-size="20" fill="#ffffff" stroke="#ffffff" stroke-width="0.2">U</text>
<text transform="translate(280.00 314.20) scale(1.03 1)" font-size="19.6" fill="#ffffff" stroke="#ffffff" stroke-width="0.2">93</text>
<text transform="translate(280.00 338.30) scale(0.83 1)" font-size="20" fill="#ffffff" stroke="#ffffff" stroke-width="0.2">Np</text>
<text transform="translate(322.17 314.20) scale(1.03 1)" font-size="19.6" fill="#ffffff" stroke="#ffffff" stroke-width="0.2">94</text>
<text transform="translate(322.17 338.30) scale(0.83 1)" font-size="20" fill="#ffffff" stroke="#ffffff" stroke-width="0.2">Pu</text>
<text transform="translate(364.34 315.00) scale(1.03 1)" font-size="19.6" fill="#ffffff" stroke="#ffffff" stroke-width="0.2">95</text>
<text transform="translate(364.34 337.80) scale(0.83 1)" font-size="17.5" fill="#ffffff" stroke="#ffffff" stroke-width="0.2">Am</text>
<text transform="translate(406.51 315.00) scale(1.03 1)" font-size="19.6" fill="#ffffff" stroke="#ffffff" stroke-width="0.2">96</text>
<text transform="translate(406.51 337.80) scale(0.83 1)" font-size="17.5" fill="#ffffff" stroke="#ffffff" stroke-width="0.2">Cm</text>
<text transform="translate(448.69 314.20) scale(1.03 1)" font-size="19.6" fill="#ffffff" stroke="#ffffff" stroke-width="0.2">97</text>
<text transform="translate(448.69 338.30) scale(0.83 1)" font-size="20" fill="#ffffff" stroke="#ffffff" stroke-width="0.2">Bk</text>
<text transform="translate(490.85 314.20) scale(1.03 1)" font-size="19.6" fill="#ffffff" stroke="#ffffff" stroke-width="0.2">98</text>
<text transform="translate(490.85 338.30) scale(0.83 1)" font-size="20" fill="#ffffff" stroke="#ffffff" stroke-width="0.2">Cf</text>
<text transform="translate(533.02 314.20) scale(1.03 1)" font-size="19.6" fill="#ffffff" stroke="#ffffff" stroke-width="0.2">99</text>
<text transform="translate(533.02 338.30) scale(0.83 1)" font-size="20" fill="#ffffff" stroke="#ffffff" stroke-width="0.2">Es</text>
<text transform="translate(575.20 314.60) scale(0.89 1)" font-size="14.4" fill="#ffffff" stroke="#ffffff" stroke-width="0.2">100</text>
<text transform="translate(575.20 335.00) scale(0.83 1)" font-size="16.2" fill="#ffffff" stroke="#ffffff" stroke-width="0.2">Fm</text>
<text transform="translate(617.37 314.60) scale(0.89 1)" font-size="14.4" fill="#ffffff" stroke="#ffffff" stroke-width="0.2">101</text>
<text transform="translate(617.37 335.00) scale(0.83 1)" font-size="16.2" fill="#ffffff" stroke="#ffffff" stroke-width="0.2">Md</text>
<text transform="translate(659.54 314.60) scale(0.89 1)" font-size="14.4" fill="#ffffff" stroke="#ffffff" stroke-width="0.2">102</text>
<text transform="translate(659.54 335.00) scale(0.83 1)" font-size="16.2" fill="#ffffff" stroke="#ffffff" stroke-width="0.2">No</text>
<text transform="translate(701.71 314.60) scale(0.89 1)" font-size="14.4" fill="#ffffff" stroke="#ffffff" stroke-width="0.2">103</text>
<text transform="translate(701.71 335.00) scale(0.83 1)" font-size="16.2" fill="#ffffff" stroke="#ffffff" stroke-width="0.2">Lr</text>
<text transform="translate(743.88 314.60) scale(0.89 1)" font-size="14.4" fill="#ffffff" stroke="#ffffff" stroke-width="0.2">104</text>
<text transform="translate(743.88 335.00) scale(0.83 1)" font-size="16.2" fill="#ffffff" stroke="#ffffff" stroke-width="0.2">Rf</text>
<text transform="translate(786.05 314.60) scale(0.89 1)" font-size="14.4" fill="#000078" stroke="#000078" stroke-width="0.2">105</text>
<text transform="translate(786.05 335.00) scale(0.83 1)" font-size="16.2" fill="#000078" stroke="#000078" stroke-width="0.2">Db</text>
<text transform="translate(828.22 314.60) scale(0.89 1)" font-size="14.4" fill="#000078" stroke="#000078" stroke-width="0.2">106</text>
<text transform="translate(828.22 335.00) scale(0.83 1)" font-size="16.2" fill="#000078" stroke="#000078" stroke-width="0.2">Sg</text>
<text transform="translate(870.39 314.60) scale(0.89 1)" font-size="14.4" fill="#000078" stroke="#000078" stroke-width="0.2">107</text>
<text transform="translate(870.39 335.00) scale(0.83 1)" font-size="16.2" fill="#000078" stroke="#000078" stroke-width="0.2">Bh</text>
<text transform="translate(912.56 314.60) scale(0.89 1)" font-size="14.4" fill="#000078" stroke="#000078" stroke-width="0.2">108</text>
<text transform="translate(912.56 335.00) scale(0.83 1)" font-size="16.2" fill="#000078" stroke="#000078" stroke-width="0.2">Hs</text>
<text transform="translate(954.73 314.60) scale(0.89 1)" font-size="14.4" fill="#000078" stroke="#000078" stroke-width="0.2">109</text>
<text transform="translate(954.73 335.00) scale(0.83 1)" font-size="16.2" fill="#000078" stroke="#000078" stroke-width="0.2">Mt</text>
<text transform="translate(996.90 314.60) scale(0.89 1)" font-size="14.4" fill="#000078" stroke="#000078" stroke-width="0.2">110</text>
<text transform="translate(996.90 335.00) scale(0.83 1)" font-size="16.2" fill="#000078" stroke="#000078" stroke-width="0.2">Ds</text>
<text transform="translate(1039.07 314.60) scale(0.89 1)" font-size="14.4" fill="#000078" stroke="#000078" stroke-width="0.2">111</text>
<text transform="translate(1039.07 335.00) scale(0.83 1)" font-size="16.2" fill="#000078" stroke="#000078" stroke-width="0.2">Rg</text>
<text transform="translate(1081.24 314.60) scale(0.89 1)" font-size="14.4" fill="#000078" stroke="#000078" stroke-width="0.2">112</text>
<text transform="translate(1081.24 335.00) scale(0.83 1)" font-size="16.2" fill="#000078" stroke="#000078" stroke-width="0.2">Cn</text>
<text transform="translate(1123.41 315.80) scale(0.89 1)" font-size="14.4" fill="#000078" stroke="#000078" stroke-width="0.2">113</text>
<text transform="translate(1123.41 334.10) scale(0.92 1)" font-size="13.4" fill="#000078" stroke="#000078" stroke-width="0.2">Uut</text>
<text transform="translate(1165.58 314.60) scale(0.89 1)" font-size="14.4" fill="#000078" stroke="#000078" stroke-width="0.2">114</text>
<text transform="translate(1165.58 335.10) scale(0.83 1)" font-size="17" fill="#000078" stroke="#000078" stroke-width="0.2">Fl</text>
<text transform="translate(1207.75 317.60) scale(0.89 1)" font-size="14.4" fill="#000078" stroke="#000078" stroke-width="0.2">115</text>
<text transform="translate(1207.75 333.10) scale(0.95 1)" font-size="10.5" fill="#000078" stroke="#000078" stroke-width="0.2">Uup</text>
<text transform="translate(1249.92 314.60) scale(0.89 1)" font-size="14.4" fill="#000078" stroke="#000078" stroke-width="0.2">116</text>
<text transform="translate(1249.92 335.00) scale(0.83 1)" font-size="16.2" fill="#000078" stroke="#000078" stroke-width="0.2">Lv</text>
<text transform="translate(1292.09 316.10) scale(0.89 1)" font-size="14.4" fill="#e84a4a" stroke="#e84a4a" stroke-width="0.2">117</text>
<text transform="translate(1292.09 333.90) scale(0.84 1)" font-size="14.4" fill="#e84a4a" stroke="#e84a4a" stroke-width="0.2">Uus</text>
<text transform="translate(1334.26 317.70) scale(0.89 1)" font-size="14.4" fill="#ffffff" stroke="#ffffff" stroke-width="0.2">118</text>
<text transform="translate(1334.26 333.80) scale(1.0 1)" font-size="10.6" fill="#ffffff" stroke="#ffffff" stroke-width="0.2">Uuo</text>
<g stroke="#000" stroke-width="1.3">
<rect x="6.3" y="375.8" width="273.7" height="38" fill="#0000f8"/>
<rect x="280" y="375.8" width="215" height="38" fill="#a9d0f8"/>
<rect x="495" y="375.8" width="215" height="38" fill="#d6ebfb"/>
<rect x="710" y="375.8" width="215" height="38" fill="#fedede"/>
<rect x="925" y="375.8" width="215" height="38" fill="#fb9a9a"/>
<rect x="1140" y="375.8" width="215.4000000000001" height="38" fill="#fb1a34"/>
</g>
<g font-family="'DejaVu Sans', Verdana, sans-serif" font-size="20.5">
<text transform="translate(143.2 403) scale(1.035 1)" fill="#ffffff">Lanthan./Actinoide</text>
<text transform="translate(387.5 403) scale(1.014 1)" fill="#000078">Schwermetalle</text>
<text transform="translate(602.5 403) scale(1.002 1)" fill="#0c78e6">Leichtmetalle</text>
<text transform="translate(817.5 403) scale(1.0 1)" fill="#e84a4a">Halbmetalle</text>
<text transform="translate(1032.5 403) scale(1.0 1)" fill="#ffffff">Nichtmetalle</text>
<text transform="translate(1247.7 403) scale(0.987 1)" fill="#ffffff">Edelgase</text>
</g>
<rect x="7.3" y="447.2" width="1348.3" height="1056.6" fill="#fff" stroke="#000" stroke-width="2.6"/>
<text x="680.5" y="526.7" font-size="29.9" fill="#3f578f" xml:space="preserve" style="white-space:pre">DAS  PERIODENSYSTEM  DER  ELEMENTE</text>
<path d="M10.0 624.2 L20.0 633.5 L30.0 642.7 L40.0 651.6 L50.0 660.3 L60.0 668.9 L70.0 677.2 L80.0 685.3 L90.0 693.3 L100.0 701.0 L110.0 708.6 L120.0 716.0 L130.0 723.2 L140.0 730.2 L150.0 737.1 L160.0 743.8 L170.0 750.3 L180.0 756.7 L190.0 762.8 L200.0 768.9 L210.0 774.7 L220.0 780.4 L230.0 786.0 L240.0 791.4 L250.0 796.6 L260.0 801.7 L270.0 806.6 L280.0 811.4 L290.0 816.1 L300.0 820.6 L310.0 825.0 L320.0 829.3 L330.0 833.4 L340.0 837.3 L350.0 841.2 L360.0 844.9 L370.0 848.5 L380.0 851.9 L390.0 855.3 L400.0 858.5 L410.0 861.6 L420.0 864.5 L430.0 867.4 L440.0 870.1 L450.0 872.7 L460.0 875.2 L470.0 877.6 L480.0 879.8 L490.0 882.0 L500.0 884.0 L510.0 886.0 L520.0 887.8 L530.0 889.5 L540.0 891.1 L550.0 892.6 L560.0 894.0 L570.0 895.3 L580.0 896.4 L590.0 897.5 L600.0 898.5 L610.0 899.3 L620.0 900.1 L630.0 900.7 L640.0 901.3 L650.0 901.7 L660.0 902.1 L670.0 902.3 L680.0 902.4 L690.0 902.5 L700.0 902.4 L710.0 902.2 L720.0 902.0 L730.0 901.6 L740.0 901.1 L750.0 900.5 L760.0 899.8 L770.0 899.1 L780.0 898.2 L790.0 897.2 L800.0 896.1 L810.0 894.9 L820.0 893.5 L830.0 892.1 L840.0 890.6 L850.0 889.0 L860.0 887.2 L870.0 885.4 L880.0 883.4 L890.0 881.3 L900.0 879.1 L910.0 876.8 L920.0 874.4 L930.0 871.9 L940.0 869.2 L950.0 866.5 L960.0 863.6 L970.0 860.6 L980.0 857.5 L990.0 854.2 L1000.0 850.8 L1010.0 847.3 L1020.0 843.7 L1030.0 840.0 L1040.0 836.1 L1050.0 832.1 L1060.0 827.9 L1070.0 823.6 L1080.0 819.2 L1090.0 814.6 L1100.0 809.9 L1110.0 805.1 L1120.0 800.1 L1130.0 794.9 L1140.0 789.6 L1150.0 784.2 L1160.0 778.6 L1170.0 772.9 L1180.0 766.9 L1190.0 760.9 L1200.0 754.6 L1210.0 748.2 L1220.0 741.7 L1230.0 734.9 L1240.0 728.0 L1250.0 720.9 L1260.0 713.7 L1270.0 706.2 L1280.0 698.6 L1290.0 690.8 L1300.0 682.8 L1310.0 674.6 L1320.0 666.2 L1330.0 657.6 L1340.0 648.8 L1350.0 639.8" fill="none" stroke="#6e6e6e" stroke-width="1" stroke-dasharray="7.5 7"/>
<line x1="688.3" y1="627" x2="688.3" y2="1503" stroke="#000" stroke-width="2.4"/>
<circle cx="654.7" cy="647.4" r="21.3" fill="#fc9b9b" stroke="#a04848" stroke-width="1"/>
<text x="654.7" y="640.0" font-size="14.2" fill="#ffffff" font-weight="normal" stroke="#ffffff" stroke-width="0.45">1</text>
<text x="654.7" y="659.7" font-size="20.5" fill="#ffffff" stroke="#ffffff" stroke-width="0.3">H</text>
<circle cx="719.8" cy="647.4" r="21.3" fill="#fa1431" stroke="#b01028" stroke-width="1"/>
<text x="719.8" y="639.4" font-size="14.2" fill="#ffffff" font-weight="normal" stroke="#ffffff" stroke-width="0.45">2</text>
<text x="719.8" y="658.3" font-size="20" fill="#ffffff" stroke="#ffffff" stroke-width="0.3">He</text>
<circle cx="531.7" cy="647.4" r="21.3" fill="#cfe9fc" stroke="#55697a" stroke-width="1"/>
<text x="531.7" y="640.0" font-size="14.2" fill="#0c78e6" stroke="#0c78e6" stroke-width="0.25">3</text>
<text x="531.7" y="659.7" font-size="20.5" fill="#0c78e6" stroke="#0c78e6" stroke-width="0.3">Li</text>
<circle cx="553.2" cy="712.3" r="21.3" fill="#cfe9fc" stroke="#55697a" stroke-width="1"/>
<text x="553.2" y="704.9" font-size="14.2" fill="#0c78e6" stroke="#0c78e6" stroke-width="0.25">4</text>
<text x="553.2" y="724.6" font-size="20.5" fill="#0c78e6" stroke="#0c78e6" stroke-width="0.3">Be</text>
<circle cx="597" cy="763" r="21.3" fill="#fddcdc" stroke="#7a6a6a" stroke-width="1"/>
<text x="597" y="755.6" font-size="14.2" fill="#e84a4a" stroke="#e84a4a" stroke-width="0.25">5</text>
<text x="597" y="775.3" font-size="20.5" fill="#e84a4a" stroke="#e84a4a" stroke-width="0.3">B</text>
<circle cx="654.7" cy="799.2" r="21.3" fill="#fc9b9b" stroke="#a04848" stroke-width="1"/>
<text x="654.7" y="791.8" font-size="14.2" fill="#ffffff" font-weight="normal" stroke="#ffffff" stroke-width="0.45">6</text>
<text x="654.7" y="811.5" font-size="20.5" fill="#ffffff" stroke="#ffffff" stroke-width="0.3">C</text>
<circle cx="719.8" cy="799.2" r="21.3" fill="#fc9b9b" stroke="#a04848" stroke-width="1"/>
<text x="719.8" y="791.8" font-size="14.2" fill="#ffffff" font-weight="normal" stroke="#ffffff" stroke-width="0.45">7</text>
<text x="719.8" y="811.5" font-size="20.5" fill="#ffffff" stroke="#ffffff" stroke-width="0.3">N</text>
<circle cx="785.1" cy="763" r="21.3" fill="#fc9b9b" stroke="#a04848" stroke-width="1"/>
<text x="785.1" y="755.6" font-size="14.2" fill="#ffffff" font-weight="normal" stroke="#ffffff" stroke-width="0.45">8</text>
<text x="785.1" y="775.3" font-size="20.5" fill="#ffffff" stroke="#ffffff" stroke-width="0.3">O</text>
<circle cx="828.7" cy="712.3" r="21.3" fill="#fc9b9b" stroke="#a04848" stroke-width="1"/>
<text x="828.7" y="704.9" font-size="14.2" fill="#ffffff" font-weight="normal" stroke="#ffffff" stroke-width="0.45">9</text>
<text x="828.7" y="724.6" font-size="20.5" fill="#ffffff" stroke="#ffffff" stroke-width="0.3">F</text>
<circle cx="842.9" cy="647.4" r="21.3" fill="#fa1431" stroke="#b01028" stroke-width="1"/>
<text x="842.9" y="638.9" font-size="14.2" fill="#ffffff" font-weight="normal" stroke="#ffffff" stroke-width="0.45">10</text>
<text x="842.9" y="658.2" font-size="19.8" fill="#ffffff" stroke="#ffffff" stroke-width="0.3">Ne</text>
<circle cx="466.2" cy="647.4" r="21.3" fill="#cfe9fc" stroke="#55697a" stroke-width="1"/>
<text x="466.2" y="640.0" font-size="14.2" fill="#0c78e6" stroke="#0c78e6" stroke-width="0.25">11</text>
<text x="466.2" y="659.7" font-size="20.5" fill="#0c78e6" stroke="#0c78e6" stroke-width="0.3">Na</text>
<circle cx="488.2" cy="734" r="21.3" fill="#cfe9fc" stroke="#55697a" stroke-width="1"/>
<text x="488.2" y="726.6" font-size="14.2" fill="#0c78e6" stroke="#0c78e6" stroke-width="0.25">12</text>
<text x="488.2" y="746.3" font-size="20.5" fill="#0c78e6" stroke="#0c78e6" stroke-width="0.3">Mg</text>
<circle cx="546" cy="806.4" r="21.3" fill="#cfe9fc" stroke="#55697a" stroke-width="1"/>
<text x="546" y="799.0" font-size="14.2" fill="#0c78e6" stroke="#0c78e6" stroke-width="0.25">13</text>
<text x="546" y="818.7" font-size="20.5" fill="#0c78e6" stroke="#0c78e6" stroke-width="0.3">Al</text>
<circle cx="633.1" cy="857.1" r="21.3" fill="#fddcdc" stroke="#7a6a6a" stroke-width="1"/>
<text x="633.1" y="849.7" font-size="14.2" fill="#e84a4a" stroke="#e84a4a" stroke-width="0.25">14</text>
<text x="633.1" y="869.4" font-size="20.5" fill="#e84a4a" stroke="#e84a4a" stroke-width="0.3">Si</text>
<circle cx="741.8" cy="857.1" r="21.3" fill="#fc9b9b" stroke="#a04848" stroke-width="1"/>
<text x="741.8" y="849.7" font-size="14.2" fill="#ffffff" font-weight="normal" stroke="#ffffff" stroke-width="0.45">15</text>
<text x="741.8" y="869.4" font-size="20.5" fill="#ffffff" stroke="#ffffff" stroke-width="0.3">P</text>
<circle cx="828.7" cy="813.8" r="21.3" fill="#fc9b9b" stroke="#a04848" stroke-width="1"/>
<text x="828.7" y="806.4" font-size="14.2" fill="#ffffff" font-weight="normal" stroke="#ffffff" stroke-width="0.45">16</text>
<text x="828.7" y="826.1" font-size="20.5" fill="#ffffff" stroke="#ffffff" stroke-width="0.3">S</text>
<circle cx="886.7" cy="741.3" r="21.3" fill="#fc9b9b" stroke="#a04848" stroke-width="1"/>
<text x="886.7" y="733.9" font-size="14.2" fill="#ffffff" font-weight="normal" stroke="#ffffff" stroke-width="0.45">17</text>
<text x="886.7" y="753.6" font-size="20.5" fill="#ffffff" stroke="#ffffff" stroke-width="0.3">Cl</text>
<circle cx="908.4" cy="647.4" r="21.3" fill="#fa1431" stroke="#b01028" stroke-width="1"/>
<text x="908.4" y="638.9" font-size="14.2" fill="#ffffff" font-weight="normal" stroke="#ffffff" stroke-width="0.45">18</text>
<text x="908.4" y="658.2" font-size="19.8" fill="#ffffff" stroke="#ffffff" stroke-width="0.3">Ar</text>
<circle cx="335.9" cy="647.4" r="21.3" fill="#cfe9fc" stroke="#55697a" stroke-width="1"/>
<text x="335.9" y="640.0" font-size="14.2" fill="#0c78e6" stroke="#0c78e6" stroke-width="0.25">19</text>
<text x="335.9" y="659.7" font-size="20.5" fill="#0c78e6" stroke="#0c78e6" stroke-width="0.3">K</text>
<circle cx="343.4" cy="712.3" r="21.3" fill="#cfe9fc" stroke="#55697a" stroke-width="1"/>
<text x="343.4" y="704.9" font-size="14.2" fill="#0c78e6" stroke="#0c78e6" stroke-width="0.25">20</text>
<text x="343.4" y="724.6" font-size="20.5" fill="#0c78e6" stroke="#0c78e6" stroke-width="0.3">Ca</text>
<circle cx="365" cy="777.9" r="21.3" fill="#cfe9fc" stroke="#55697a" stroke-width="1"/>
<text x="365" y="770.5" font-size="14.2" fill="#0c78e6" stroke="#0c78e6" stroke-width="0.25">21</text>
<text x="365" y="790.2" font-size="20.5" fill="#0c78e6" stroke="#0c78e6" stroke-width="0.3">Sc</text>
<circle cx="393.9" cy="835.4" r="21.3" fill="#cfe9fc" stroke="#55697a" stroke-width="1"/>
<text x="393.9" y="828.0" font-size="14.2" fill="#0c78e6" stroke="#0c78e6" stroke-width="0.25">22</text>
<text x="393.9" y="847.7" font-size="20.5" fill="#0c78e6" stroke="#0c78e6" stroke-width="0.3">Ti</text>
<circle cx="430.1" cy="893.3" r="21.3" fill="#81c9fb" stroke="#2f5f8c" stroke-width="1"/>
<text x="430.1" y="885.9" font-size="14.2" fill="#0000b4" stroke="#0000b4" stroke-width="0.25">23</text>
<text x="430.1" y="905.6" font-size="20.5" fill="#0000b4" stroke="#0000b4" stroke-width="0.3">V</text>
<circle cx="481" cy="930" r="21.3" fill="#81c9fb" stroke="#2f5f8c" stroke-width="1"/>
<text x="481" y="922.6" font-size="14.2" fill="#0000b4" stroke="#0000b4" stroke-width="0.25">24</text>
<text x="481" y="942.3" font-size="20.5" fill="#0000b4" stroke="#0000b4" stroke-width="0.3">Cr</text>
<circle cx="539.1" cy="966.2" r="21.3" fill="#81c9fb" stroke="#2f5f8c" stroke-width="1"/>
<text x="539.1" y="958.8" font-size="14.2" fill="#0000b4" stroke="#0000b4" stroke-width="0.25">25</text>
<text x="539.1" y="978.5" font-size="20.5" fill="#0000b4" stroke="#0000b4" stroke-width="0.3">Mn</text>
<circle cx="597" cy="987.9" r="21.3" fill="#81c9fb" stroke="#2f5f8c" stroke-width="1"/>
<text x="597" y="980.5" font-size="14.2" fill="#0000b4" stroke="#0000b4" stroke-width="0.25">26</text>
<text x="597" y="1000.2" font-size="20.5" fill="#0000b4" stroke="#0000b4" stroke-width="0.3">Fe</text>
<circle cx="654.8" cy="995.1" r="21.3" fill="#81c9fb" stroke="#2f5f8c" stroke-width="1"/>
<text x="654.8" y="987.7" font-size="14.2" fill="#0000b4" stroke="#0000b4" stroke-width="0.25">27</text>
<text x="654.8" y="1007.4" font-size="20.5" fill="#0000b4" stroke="#0000b4" stroke-width="0.3">Co</text>
<circle cx="719.8" cy="994.9" r="21.3" fill="#81c9fb" stroke="#2f5f8c" stroke-width="1"/>
<text x="719.8" y="987.5" font-size="14.2" fill="#0000b4" stroke="#0000b4" stroke-width="0.25">28</text>
<text x="719.8" y="1007.2" font-size="20.5" fill="#0000b4" stroke="#0000b4" stroke-width="0.3">Ni</text>
<circle cx="789.7" cy="980.4" r="21.3" fill="#81c9fb" stroke="#2f5f8c" stroke-width="1"/>
<text x="789.7" y="973.0" font-size="14.2" fill="#0000b4" stroke="#0000b4" stroke-width="0.25">29</text>
<text x="789.7" y="992.7" font-size="20.5" fill="#0000b4" stroke="#0000b4" stroke-width="0.3">Cu</text>
<circle cx="850.4" cy="958.7" r="21.3" fill="#81c9fb" stroke="#2f5f8c" stroke-width="1"/>
<text x="850.4" y="951.3" font-size="14.2" fill="#0000b4" stroke="#0000b4" stroke-width="0.25">30</text>
<text x="850.4" y="971.0" font-size="20.5" fill="#0000b4" stroke="#0000b4" stroke-width="0.3">Zn</text>
<circle cx="903.9" cy="930" r="21.3" fill="#81c9fb" stroke="#2f5f8c" stroke-width="1"/>
<text x="903.9" y="922.6" font-size="14.2" fill="#0000b4" stroke="#0000b4" stroke-width="0.25">31</text>
<text x="903.9" y="942.3" font-size="20.5" fill="#0000b4" stroke="#0000b4" stroke-width="0.3">Ga</text>
<circle cx="952.1" cy="886.3" r="21.3" fill="#fddcdc" stroke="#7a6a6a" stroke-width="1"/>
<text x="952.1" y="878.9" font-size="14.2" fill="#e84a4a" stroke="#e84a4a" stroke-width="0.25">32</text>
<text x="952.1" y="898.6" font-size="20.5" fill="#e84a4a" stroke="#e84a4a" stroke-width="0.3">Ge</text>
<circle cx="991.4" cy="828.4" r="21.3" fill="#fddcdc" stroke="#7a6a6a" stroke-width="1"/>
<text x="991.4" y="821.0" font-size="14.2" fill="#e84a4a" stroke="#e84a4a" stroke-width="0.25">33</text>
<text x="991.4" y="840.7" font-size="20.5" fill="#e84a4a" stroke="#e84a4a" stroke-width="0.3">As</text>
<circle cx="1021" cy="770.5" r="21.3" fill="#fc9b9b" stroke="#a04848" stroke-width="1"/>
<text x="1021" y="763.1" font-size="14.2" fill="#ffffff" font-weight="normal" stroke="#ffffff" stroke-width="0.45">34</text>
<text x="1021" y="782.8" font-size="20.5" fill="#ffffff" stroke="#ffffff" stroke-width="0.3">Se</text>
<circle cx="1040.2" cy="712.3" r="21.3" fill="#fc9b9b" stroke="#a04848" stroke-width="1"/>
<text x="1040.2" y="704.9" font-size="14.2" fill="#ffffff" font-weight="normal" stroke="#ffffff" stroke-width="0.45">35</text>
<text x="1040.2" y="724.6" font-size="20.5" fill="#ffffff" stroke="#ffffff" stroke-width="0.3">Br</text>
<circle cx="1048.8" cy="647.4" r="21.3" fill="#fa1431" stroke="#b01028" stroke-width="1"/>
<text x="1048.8" y="639.6" font-size="14.2" fill="#ffffff" font-weight="normal" stroke="#ffffff" stroke-width="0.45">36</text>
<text x="1048.8" y="658.8" font-size="20.3" fill="#ffffff" stroke="#ffffff" stroke-width="0.3">Kr</text>
<circle cx="270.6" cy="647.4" r="21.3" fill="#cfe9fc" stroke="#55697a" stroke-width="1"/>
<text x="270.6" y="640.0" font-size="14.2" fill="#0c78e6" stroke="#0c78e6" stroke-width="0.25">37</text>
<text x="270.6" y="659.7" font-size="20.5" fill="#0c78e6" stroke="#0c78e6" stroke-width="0.3">Rb</text>
<circle cx="278" cy="719.3" r="21.3" fill="#cfe9fc" stroke="#55697a" stroke-width="1"/>
<text x="278" y="711.9" font-size="14.2" fill="#0c78e6" stroke="#0c78e6" stroke-width="0.25">38</text>
<text x="278" y="731.6" font-size="20.5" fill="#0c78e6" stroke="#0c78e6" stroke-width="0.3">Sr</text>
<circle cx="299.8" cy="792.2" r="21.3" fill="#cfe9fc" stroke="#55697a" stroke-width="1"/>
<text x="299.8" y="784.8" font-size="14.2" fill="#0c78e6" stroke="#0c78e6" stroke-width="0.25">39</text>
<text x="299.8" y="804.5" font-size="20.5" fill="#0c78e6" stroke="#0c78e6" stroke-width="0.3">Y</text>
<circle cx="328.8" cy="857.1" r="21.3" fill="#81c9fb" stroke="#2f5f8c" stroke-width="1"/>
<text x="328.8" y="849.7" font-size="14.2" fill="#0000b4" stroke="#0000b4" stroke-width="0.25">40</text>
<text x="328.8" y="869.4" font-size="20.5" fill="#0000b4" stroke="#0000b4" stroke-width="0.3">Zr</text>
<circle cx="365" cy="915.3" r="21.3" fill="#81c9fb" stroke="#2f5f8c" stroke-width="1"/>
<text x="365" y="907.9" font-size="14.2" fill="#0000b4" stroke="#0000b4" stroke-width="0.25">41</text>
<text x="365" y="927.6" font-size="20.5" fill="#0000b4" stroke="#0000b4" stroke-width="0.3">Nb</text>
<circle cx="415.8" cy="966.2" r="21.3" fill="#81c9fb" stroke="#2f5f8c" stroke-width="1"/>
<text x="415.8" y="958.8" font-size="14.2" fill="#0000b4" stroke="#0000b4" stroke-width="0.25">42</text>
<text x="415.8" y="978.5" font-size="20.5" fill="#0000b4" stroke="#0000b4" stroke-width="0.3">Mo</text>
<circle cx="480.9" cy="1016.8" r="21.3" fill="#81c9fb" stroke="#2f5f8c" stroke-width="1"/>
<text x="480.9" y="1009.4" font-size="14.2" fill="#0000b4" stroke="#0000b4" stroke-width="0.25">43</text>
<text x="480.9" y="1029.1" font-size="20.5" fill="#0000b4" stroke="#0000b4" stroke-width="0.3">Tc</text>
<circle cx="553.3" cy="1045.5" r="21.3" fill="#81c9fb" stroke="#2f5f8c" stroke-width="1"/>
<text x="553.3" y="1038.1" font-size="14.2" fill="#0000b4" stroke="#0000b4" stroke-width="0.25">44</text>
<text x="553.3" y="1057.8" font-size="20.5" fill="#0000b4" stroke="#0000b4" stroke-width="0.3">Ru</text>
<circle cx="640.2" cy="1060.3" r="21.3" fill="#81c9fb" stroke="#2f5f8c" stroke-width="1"/>
<text x="640.2" y="1052.9" font-size="14.2" fill="#0000b4" stroke="#0000b4" stroke-width="0.25">45</text>
<text x="640.2" y="1072.6" font-size="20.5" fill="#0000b4" stroke="#0000b4" stroke-width="0.3">Rh</text>
<circle cx="727.1" cy="1060.1" r="21.3" fill="#81c9fb" stroke="#2f5f8c" stroke-width="1"/>
<text x="727.1" y="1052.7" font-size="14.2" fill="#0000b4" stroke="#0000b4" stroke-width="0.25">46</text>
<text x="727.1" y="1072.4" font-size="20.5" fill="#0000b4" stroke="#0000b4" stroke-width="0.3">Pd</text>
<circle cx="806.9" cy="1045.5" r="21.3" fill="#81c9fb" stroke="#2f5f8c" stroke-width="1"/>
<text x="806.9" y="1038.1" font-size="14.2" fill="#0000b4" stroke="#0000b4" stroke-width="0.25">47</text>
<text x="806.9" y="1057.8" font-size="20.5" fill="#0000b4" stroke="#0000b4" stroke-width="0.3">Ag</text>
<circle cx="879.6" cy="1016.8" r="21.3" fill="#81c9fb" stroke="#2f5f8c" stroke-width="1"/>
<text x="879.6" y="1009.4" font-size="14.2" fill="#0000b4" stroke="#0000b4" stroke-width="0.25">48</text>
<text x="879.6" y="1029.1" font-size="20.5" fill="#0000b4" stroke="#0000b4" stroke-width="0.3">Cd</text>
<circle cx="952" cy="980.4" r="21.3" fill="#81c9fb" stroke="#2f5f8c" stroke-width="1"/>
<text x="952" y="973.0" font-size="14.2" fill="#0000b4" stroke="#0000b4" stroke-width="0.25">49</text>
<text x="952" y="992.7" font-size="20.5" fill="#0000b4" stroke="#0000b4" stroke-width="0.3">In</text>
<circle cx="1002.6" cy="922.5" r="21.3" fill="#81c9fb" stroke="#2f5f8c" stroke-width="1"/>
<text x="1002.6" y="915.1" font-size="14.2" fill="#0000b4" stroke="#0000b4" stroke-width="0.25">50</text>
<text x="1002.6" y="934.8" font-size="20.5" fill="#0000b4" stroke="#0000b4" stroke-width="0.3">Sn</text>
<circle cx="1045.8" cy="857.1" r="21.3" fill="#fddcdc" stroke="#7a6a6a" stroke-width="1"/>
<text x="1045.8" y="849.7" font-size="14.2" fill="#e84a4a" stroke="#e84a4a" stroke-width="0.25">51</text>
<text x="1045.8" y="869.4" font-size="20.5" fill="#e84a4a" stroke="#e84a4a" stroke-width="0.3">Sb</text>
<circle cx="1081.3" cy="792.2" r="21.3" fill="#fddcdc" stroke="#7a6a6a" stroke-width="1"/>
<text x="1081.3" y="784.8" font-size="14.2" fill="#e84a4a" stroke="#e84a4a" stroke-width="0.25">52</text>
<text x="1081.3" y="804.5" font-size="20.5" fill="#e84a4a" stroke="#e84a4a" stroke-width="0.3">Te</text>
<circle cx="1098.6" cy="719.3" r="21.3" fill="#fc9b9b" stroke="#a04848" stroke-width="1"/>
<text x="1098.6" y="711.9" font-size="14.2" fill="#ffffff" font-weight="normal" stroke="#ffffff" stroke-width="0.45">53</text>
<text x="1098.6" y="731.6" font-size="20.5" fill="#ffffff" stroke="#ffffff" stroke-width="0.3">I</text>
<circle cx="1111.2" cy="647.4" r="21.3" fill="#fa1431" stroke="#b01028" stroke-width="1"/>
<text x="1111.2" y="639.6" font-size="14.2" fill="#ffffff" font-weight="normal" stroke="#ffffff" stroke-width="0.45">54</text>
<text x="1111.2" y="658.8" font-size="20.3" fill="#ffffff" stroke="#ffffff" stroke-width="0.3">Xe</text>
<circle cx="125.8" cy="647.4" r="21.3" fill="#cfe9fc" stroke="#55697a" stroke-width="1"/>
<text x="125.8" y="640.0" font-size="14.2" fill="#0c78e6" stroke="#0c78e6" stroke-width="0.25">55</text>
<text x="125.8" y="659.7" font-size="20.5" fill="#0c78e6" stroke="#0c78e6" stroke-width="0.3">Cs</text>
<circle cx="125.8" cy="697.7" r="21.3" fill="#cfe9fc" stroke="#55697a" stroke-width="1"/>
<text x="125.8" y="690.3" font-size="14.2" fill="#0c78e6" stroke="#0c78e6" stroke-width="0.25">56</text>
<text x="125.8" y="710.0" font-size="20.5" fill="#0c78e6" stroke="#0c78e6" stroke-width="0.3">Ba</text>
<circle cx="133" cy="749" r="21.3" fill="#81c9fb" stroke="#2f5f8c" stroke-width="1"/>
<text x="133" y="741.6" font-size="14.2" fill="#0000b4" stroke="#0000b4" stroke-width="0.25">57</text>
<text x="133" y="761.3" font-size="20.5" fill="#0000b4" stroke="#0000b4" stroke-width="0.3">La</text>
<circle cx="147.7" cy="799.2" r="21.3" fill="#0000f0" stroke="#0000c0" stroke-width="1"/>
<text x="147.7" y="791.8" font-size="14.2" fill="#ffffff" stroke="#ffffff" stroke-width="0.25">58</text>
<text x="147.7" y="811.5" font-size="20.5" fill="#ffffff" stroke="#ffffff" stroke-width="0.3">Ce</text>
<circle cx="162.1" cy="850.1" r="21.3" fill="#0000f0" stroke="#0000c0" stroke-width="1"/>
<text x="162.1" y="842.7" font-size="14.2" fill="#ffffff" stroke="#ffffff" stroke-width="0.25">59</text>
<text x="162.1" y="862.4" font-size="20.5" fill="#ffffff" stroke="#ffffff" stroke-width="0.3">Pr</text>
<circle cx="184" cy="900.5" r="21.3" fill="#0000f0" stroke="#0000c0" stroke-width="1"/>
<text x="184" y="893.1" font-size="14.2" fill="#ffffff" stroke="#ffffff" stroke-width="0.25">60</text>
<text x="184" y="912.8" font-size="20.5" fill="#ffffff" stroke="#ffffff" stroke-width="0.3">Nd</text>
<circle cx="212.8" cy="951.3" r="21.3" fill="#0000f0" stroke="#0000c0" stroke-width="1"/>
<text x="212.8" y="943.9" font-size="14.2" fill="#ffffff" stroke="#ffffff" stroke-width="0.25">61</text>
<text x="212.8" y="963.6" font-size="20.5" fill="#ffffff" stroke="#ffffff" stroke-width="0.3">Pm</text>
<circle cx="249" cy="994.9" r="21.3" fill="#0000f0" stroke="#0000c0" stroke-width="1"/>
<text x="249" y="987.5" font-size="14.2" fill="#ffffff" stroke="#ffffff" stroke-width="0.25">62</text>
<text x="249" y="1007.2" font-size="20.5" fill="#ffffff" stroke="#ffffff" stroke-width="0.3">Sm</text>
<circle cx="285.2" cy="1038.3" r="21.3" fill="#0000f0" stroke="#0000c0" stroke-width="1"/>
<text x="285.2" y="1030.9" font-size="14.2" fill="#ffffff" stroke="#ffffff" stroke-width="0.25">63</text>
<text x="285.2" y="1050.6" font-size="20.5" fill="#ffffff" stroke="#ffffff" stroke-width="0.3">Eu</text>
<circle cx="328.8" cy="1074" r="21.3" fill="#0000f0" stroke="#0000c0" stroke-width="1"/>
<text x="328.8" y="1066.6" font-size="14.2" fill="#ffffff" stroke="#ffffff" stroke-width="0.25">64</text>
<text x="328.8" y="1086.3" font-size="20.5" fill="#ffffff" stroke="#ffffff" stroke-width="0.3">Gd</text>
<circle cx="379.3" cy="1103.4" r="21.3" fill="#0000f0" stroke="#0000c0" stroke-width="1"/>
<text x="379.3" y="1096.0" font-size="14.2" fill="#ffffff" stroke="#ffffff" stroke-width="0.25">65</text>
<text x="379.3" y="1115.7" font-size="20.5" fill="#ffffff" stroke="#ffffff" stroke-width="0.3">Tb</text>
<circle cx="430.2" cy="1132.5" r="21.3" fill="#0000f0" stroke="#0000c0" stroke-width="1"/>
<text x="430.2" y="1125.1" font-size="14.2" fill="#ffffff" stroke="#ffffff" stroke-width="0.25">66</text>
<text x="430.2" y="1144.8" font-size="20.5" fill="#ffffff" stroke="#ffffff" stroke-width="0.3">Dy</text>
<circle cx="480.9" cy="1161.5" r="21.3" fill="#0000f0" stroke="#0000c0" stroke-width="1"/>
<text x="480.9" y="1154.1" font-size="14.2" fill="#ffffff" stroke="#ffffff" stroke-width="0.25">67</text>
<text x="480.9" y="1173.8" font-size="20.5" fill="#ffffff" stroke="#ffffff" stroke-width="0.3">Ho</text>
<circle cx="539.1" cy="1183.3" r="21.3" fill="#0000f0" stroke="#0000c0" stroke-width="1"/>
<text x="539.1" y="1175.9" font-size="14.2" fill="#ffffff" stroke="#ffffff" stroke-width="0.25">68</text>
<text x="539.1" y="1195.6" font-size="20.5" fill="#ffffff" stroke="#ffffff" stroke-width="0.3">Er</text>
<circle cx="597" cy="1190.6" r="21.3" fill="#0000f0" stroke="#0000c0" stroke-width="1"/>
<text x="597" y="1183.2" font-size="14.2" fill="#ffffff" stroke="#ffffff" stroke-width="0.25">69</text>
<text x="597" y="1202.9" font-size="20.5" fill="#ffffff" stroke="#ffffff" stroke-width="0.3">Tm</text>
<circle cx="654.8" cy="1197.7" r="21.3" fill="#0000f0" stroke="#0000c0" stroke-width="1"/>
<text x="654.8" y="1190.3" font-size="14.2" fill="#ffffff" stroke="#ffffff" stroke-width="0.25">70</text>
<text x="654.8" y="1210.0" font-size="20.5" fill="#ffffff" stroke="#ffffff" stroke-width="0.3">Yb</text>
<circle cx="719.8" cy="1197.7" r="21.3" fill="#0000f0" stroke="#0000c0" stroke-width="1"/>
<text x="719.8" y="1190.3" font-size="14.2" fill="#ffffff" stroke="#ffffff" stroke-width="0.25">71</text>
<text x="719.8" y="1210.0" font-size="20.5" fill="#ffffff" stroke="#ffffff" stroke-width="0.3">Lu</text>
<circle cx="778" cy="1190.4" r="21.3" fill="#81c9fb" stroke="#2f5f8c" stroke-width="1"/>
<text x="778" y="1183.0" font-size="14.2" fill="#0000b4" stroke="#0000b4" stroke-width="0.25">72</text>
<text x="778" y="1202.7" font-size="20.5" fill="#0000b4" stroke="#0000b4" stroke-width="0.3">Hf</text>
<circle cx="835.9" cy="1176.2" r="21.3" fill="#81c9fb" stroke="#2f5f8c" stroke-width="1"/>
<text x="835.9" y="1168.8" font-size="14.2" fill="#0000b4" stroke="#0000b4" stroke-width="0.25">73</text>
<text x="835.9" y="1188.5" font-size="20.5" fill="#0000b4" stroke="#0000b4" stroke-width="0.3">Ta</text>
<circle cx="893.8" cy="1161.6" r="21.3" fill="#81c9fb" stroke="#2f5f8c" stroke-width="1"/>
<text x="893.8" y="1154.2" font-size="14.2" fill="#0000b4" stroke="#0000b4" stroke-width="0.25">74</text>
<text x="893.8" y="1173.9" font-size="20.5" fill="#0000b4" stroke="#0000b4" stroke-width="0.3">W</text>
<circle cx="944.7" cy="1140.1" r="21.3" fill="#81c9fb" stroke="#2f5f8c" stroke-width="1"/>
<text x="944.7" y="1132.7" font-size="14.2" fill="#0000b4" stroke="#0000b4" stroke-width="0.25">75</text>
<text x="944.7" y="1152.4" font-size="20.5" fill="#0000b4" stroke="#0000b4" stroke-width="0.3">Re</text>
<circle cx="995.3" cy="1110.9" r="21.3" fill="#81c9fb" stroke="#2f5f8c" stroke-width="1"/>
<text x="995.3" y="1103.5" font-size="14.2" fill="#0000b4" stroke="#0000b4" stroke-width="0.25">76</text>
<text x="995.3" y="1123.2" font-size="20.5" fill="#0000b4" stroke="#0000b4" stroke-width="0.3">Os</text>
<circle cx="1039" cy="1074.6" r="21.3" fill="#81c9fb" stroke="#2f5f8c" stroke-width="1"/>
<text x="1039" y="1067.2" font-size="14.2" fill="#0000b4" stroke="#0000b4" stroke-width="0.25">77</text>
<text x="1039" y="1086.9" font-size="20.5" fill="#0000b4" stroke="#0000b4" stroke-width="0.3">Ir</text>
<circle cx="1082.2" cy="1038.3" r="21.3" fill="#81c9fb" stroke="#2f5f8c" stroke-width="1"/>
<text x="1082.2" y="1030.9" font-size="14.2" fill="#0000b4" stroke="#0000b4" stroke-width="0.25">78</text>
<text x="1082.2" y="1050.6" font-size="20.5" fill="#0000b4" stroke="#0000b4" stroke-width="0.3">Pt</text>
<circle cx="1118.7" cy="994.9" r="21.3" fill="#81c9fb" stroke="#2f5f8c" stroke-width="1"/>
<text x="1118.7" y="987.2" font-size="14.2" fill="#0000b4" stroke="#0000b4" stroke-width="0.25">79</text>
<text x="1118.7" y="1005.5" font-size="20.4" fill="#0000b4" stroke="#0000b4" stroke-width="0.3">Au</text>
<circle cx="1147.7" cy="951.3" r="21.3" fill="#81c9fb" stroke="#2f5f8c" stroke-width="1"/>
<text x="1147.7" y="943.9" font-size="14.2" fill="#0000b4" stroke="#0000b4" stroke-width="0.25">80</text>
<text x="1147.7" y="963.6" font-size="20.5" fill="#0000b4" stroke="#0000b4" stroke-width="0.3">Hg</text>
<circle cx="1176" cy="908.2" r="21.3" fill="#81c9fb" stroke="#2f5f8c" stroke-width="1"/>
<text x="1176" y="900.8" font-size="14.2" fill="#0000b4" stroke="#0000b4" stroke-width="0.25">81</text>
<text x="1176" y="920.5" font-size="20.5" fill="#0000b4" stroke="#0000b4" stroke-width="0.3">Tl</text>
<circle cx="1197.9" cy="864.9" r="21.3" fill="#81c9fb" stroke="#2f5f8c" stroke-width="1"/>
<text x="1197.9" y="857.5" font-size="14.2" fill="#0000b4" stroke="#0000b4" stroke-width="0.25">82</text>
<text x="1197.9" y="877.2" font-size="20.5" fill="#0000b4" stroke="#0000b4" stroke-width="0.3">Pb</text>
<circle cx="1219.3" cy="813.9" r="21.3" fill="#81c9fb" stroke="#2f5f8c" stroke-width="1"/>
<text x="1219.3" y="806.5" font-size="14.2" fill="#0000b4" stroke="#0000b4" stroke-width="0.25">83</text>
<text x="1219.3" y="826.2" font-size="20.5" fill="#0000b4" stroke="#0000b4" stroke-width="0.3">Bi</text>
<circle cx="1234" cy="763" r="21.3" fill="#fddcdc" stroke="#7a6a6a" stroke-width="1"/>
<text x="1234" y="755.6" font-size="14.2" fill="#e84a4a" stroke="#e84a4a" stroke-width="0.25">84</text>
<text x="1234" y="775.3" font-size="20.5" fill="#e84a4a" stroke="#e84a4a" stroke-width="0.3">Po</text>
<circle cx="1241" cy="705.3" r="21.3" fill="#fddcdc" stroke="#7a6a6a" stroke-width="1"/>
<text x="1241" y="697.9" font-size="14.2" fill="#e84a4a" stroke="#e84a4a" stroke-width="0.25">85</text>
<text x="1241" y="717.6" font-size="20.5" fill="#e84a4a" stroke="#e84a4a" stroke-width="0.3">At</text>
<circle cx="1248.5" cy="647.4" r="21.3" fill="#fa1431" stroke="#b01028" stroke-width="1"/>
<text x="1248.5" y="640.0" font-size="14.2" fill="#ffffff" font-weight="normal" stroke="#ffffff" stroke-width="0.45">86</text>
<text x="1248.5" y="659.7" font-size="20.5" fill="#ffffff" stroke="#ffffff" stroke-width="0.3">Rn</text>
<circle cx="67.8" cy="647.4" r="21.3" fill="#cfe9fc" stroke="#55697a" stroke-width="1"/>
<text x="67.8" y="640.0" font-size="14.2" fill="#0c78e6" stroke="#0c78e6" stroke-width="0.25">87</text>
<text x="67.8" y="659.7" font-size="20.5" fill="#0c78e6" stroke="#0c78e6" stroke-width="0.3">Fr</text>
<circle cx="67.4" cy="705.1" r="21.3" fill="#81c9fb" stroke="#2f5f8c" stroke-width="1"/>
<text x="67.4" y="697.7" font-size="14.2" fill="#0000b4" stroke="#0000b4" stroke-width="0.25">88</text>
<text x="67.4" y="717.4" font-size="20.5" fill="#0000b4" stroke="#0000b4" stroke-width="0.3">Ra</text>
<circle cx="74" cy="757.3" r="21.3" fill="#81c9fb" stroke="#2f5f8c" stroke-width="1"/>
<text x="74" y="749.9" font-size="14.2" fill="#0000b4" stroke="#0000b4" stroke-width="0.25">89</text>
<text x="74" y="769.6" font-size="20.5" fill="#0000b4" stroke="#0000b4" stroke-width="0.3">Ac</text>
<circle cx="82.4" cy="813.6" r="21.3" fill="#0000f0" stroke="#0000c0" stroke-width="1"/>
<text x="82.4" y="806.2" font-size="14.2" fill="#ffffff" stroke="#ffffff" stroke-width="0.25">90</text>
<text x="82.4" y="825.9" font-size="20.5" fill="#ffffff" stroke="#ffffff" stroke-width="0.3">Th</text>
<circle cx="96.7" cy="871.6" r="21.3" fill="#0000f0" stroke="#0000c0" stroke-width="1"/>
<text x="96.7" y="864.2" font-size="14.2" fill="#ffffff" stroke="#ffffff" stroke-width="0.25">91</text>
<text x="96.7" y="883.9" font-size="20.5" fill="#ffffff" stroke="#ffffff" stroke-width="0.3">Pa</text>
<circle cx="118.6" cy="922.7" r="21.3" fill="#0000f0" stroke="#0000c0" stroke-width="1"/>
<text x="118.6" y="915.3" font-size="14.2" fill="#ffffff" stroke="#ffffff" stroke-width="0.25">92</text>
<text x="118.6" y="935.0" font-size="20.5" fill="#ffffff" stroke="#ffffff" stroke-width="0.3">U</text>
<circle cx="147.5" cy="973.1" r="21.3" fill="#0000f0" stroke="#0000c0" stroke-width="1"/>
<text x="147.5" y="965.7" font-size="14.2" fill="#ffffff" stroke="#ffffff" stroke-width="0.25">93</text>
<text x="147.5" y="985.4" font-size="20.5" fill="#ffffff" stroke="#ffffff" stroke-width="0.3">Np</text>
<circle cx="191.1" cy="1023.8" r="21.3" fill="#0000f0" stroke="#0000c0" stroke-width="1"/>
<text x="191.1" y="1016.4" font-size="14.2" fill="#ffffff" stroke="#ffffff" stroke-width="0.25">94</text>
<text x="191.1" y="1036.1" font-size="20.5" fill="#ffffff" stroke="#ffffff" stroke-width="0.3">Pu</text>
<circle cx="234.5" cy="1074.6" r="21.3" fill="#0000f0" stroke="#0000c0" stroke-width="1"/>
<text x="234.5" y="1067.2" font-size="14.2" fill="#ffffff" stroke="#ffffff" stroke-width="0.25">95</text>
<text x="234.5" y="1086.9" font-size="20.5" fill="#ffffff" stroke="#ffffff" stroke-width="0.3">Am</text>
<circle cx="285.2" cy="1117.9" r="21.3" fill="#0000f0" stroke="#0000c0" stroke-width="1"/>
<text x="285.2" y="1110.5" font-size="14.2" fill="#ffffff" stroke="#ffffff" stroke-width="0.25">96</text>
<text x="285.2" y="1130.2" font-size="20.5" fill="#ffffff" stroke="#ffffff" stroke-width="0.3">Cm</text>
<circle cx="343.2" cy="1161.5" r="21.3" fill="#0000f0" stroke="#0000c0" stroke-width="1"/>
<text x="343.2" y="1154.1" font-size="14.2" fill="#ffffff" stroke="#ffffff" stroke-width="0.25">97</text>
<text x="343.2" y="1173.8" font-size="20.5" fill="#ffffff" stroke="#ffffff" stroke-width="0.3">Bk</text>
<circle cx="401" cy="1190.6" r="21.3" fill="#0000f0" stroke="#0000c0" stroke-width="1"/>
<text x="401" y="1183.2" font-size="14.2" fill="#ffffff" stroke="#ffffff" stroke-width="0.25">98</text>
<text x="401" y="1202.9" font-size="20.5" fill="#ffffff" stroke="#ffffff" stroke-width="0.3">Cf</text>
<circle cx="459.2" cy="1219.6" r="21.3" fill="#0000f0" stroke="#0000c0" stroke-width="1"/>
<text x="459.2" y="1212.2" font-size="14.2" fill="#ffffff" stroke="#ffffff" stroke-width="0.25">99</text>
<text x="459.2" y="1231.9" font-size="20.5" fill="#ffffff" stroke="#ffffff" stroke-width="0.3">Es</text>
<circle cx="524.2" cy="1241.4" r="21.3" fill="#0000f0" stroke="#0000c0" stroke-width="1"/>
<text x="524.2" y="1234.8" font-size="14.5" fill="#ffffff" stroke="#ffffff" stroke-width="0.25">100</text>
<text x="524.2" y="1253.4" font-size="19.4" fill="#ffffff" stroke="#ffffff" stroke-width="0.3">Fm</text>
<circle cx="589.7" cy="1255.9" r="21.3" fill="#0000f0" stroke="#0000c0" stroke-width="1"/>
<text x="589.7" y="1249.3" font-size="14.5" fill="#ffffff" stroke="#ffffff" stroke-width="0.25">101</text>
<text x="589.7" y="1267.9" font-size="19.4" fill="#ffffff" stroke="#ffffff" stroke-width="0.3">Md</text>
<circle cx="654.8" cy="1263.1" r="21.3" fill="#0000f0" stroke="#0000c0" stroke-width="1"/>
<text x="654.8" y="1256.5" font-size="14.5" fill="#ffffff" stroke="#ffffff" stroke-width="0.25">102</text>
<text x="654.8" y="1275.1" font-size="19.4" fill="#ffffff" stroke="#ffffff" stroke-width="0.3">No</text>
<circle cx="720.2" cy="1263.1" r="21.3" fill="#0000f0" stroke="#0000c0" stroke-width="1"/>
<text x="720.2" y="1256.5" font-size="14.5" fill="#ffffff" stroke="#ffffff" stroke-width="0.25">103</text>
<text x="720.2" y="1275.1" font-size="19.4" fill="#ffffff" stroke="#ffffff" stroke-width="0.3">Lr</text>
<circle cx="784.3" cy="1257.1" r="21.3" fill="#81c9fb" stroke="#2f5f8c" stroke-width="1"/>
<text x="784.3" y="1250.5" font-size="14.5" fill="#0000b4" stroke="#0000b4" stroke-width="0.25">104</text>
<text x="784.3" y="1269.1" font-size="19.4" fill="#0000b4" stroke="#0000b4" stroke-width="0.3">Rf</text>
<circle cx="849.6" cy="1242.6" r="21.3" fill="#81c9fb" stroke="#2f5f8c" stroke-width="1"/>
<text x="849.6" y="1236.0" font-size="14.5" fill="#0000b4" stroke="#0000b4" stroke-width="0.25">105</text>
<text x="849.6" y="1254.6" font-size="19.4" fill="#0000b4" stroke="#0000b4" stroke-width="0.3">Db</text>
<circle cx="907.9" cy="1228.2" r="21.3" fill="#81c9fb" stroke="#2f5f8c" stroke-width="1"/>
<text x="907.9" y="1221.6" font-size="14.5" fill="#0000b4" stroke="#0000b4" stroke-width="0.25">106</text>
<text x="907.9" y="1240.2" font-size="19.4" fill="#0000b4" stroke="#0000b4" stroke-width="0.3">Sg</text>
<circle cx="965.8" cy="1199.1" r="21.3" fill="#81c9fb" stroke="#2f5f8c" stroke-width="1"/>
<text x="965.8" y="1192.5" font-size="14.5" fill="#0000b4" stroke="#0000b4" stroke-width="0.25">107</text>
<text x="965.8" y="1211.1" font-size="19.4" fill="#0000b4" stroke="#0000b4" stroke-width="0.3">Bh</text>
<circle cx="1016.4" cy="1170.3" r="21.3" fill="#81c9fb" stroke="#2f5f8c" stroke-width="1"/>
<text x="1016.4" y="1163.7" font-size="14.5" fill="#0000b4" stroke="#0000b4" stroke-width="0.25">108</text>
<text x="1016.4" y="1182.3" font-size="19.4" fill="#0000b4" stroke="#0000b4" stroke-width="0.3">Hs</text>
<circle cx="1066.8" cy="1134" r="21.3" fill="#81c9fb" stroke="#2f5f8c" stroke-width="1"/>
<text x="1066.8" y="1127.4" font-size="14.5" fill="#0000b4" stroke="#0000b4" stroke-width="0.25">109</text>
<text x="1066.8" y="1146.9" font-size="19.8" fill="#0000b4" stroke="#0000b4" stroke-width="0.3">Mt</text>
<circle cx="1117.9" cy="1098" r="21.3" fill="#81c9fb" stroke="#2f5f8c" stroke-width="1"/>
<text x="1117.9" y="1091.8" font-size="14.5" fill="#0000b4" stroke="#0000b4" stroke-width="0.25">110</text>
<text x="1117.9" y="1109.0" font-size="19.4" fill="#0000b4" stroke="#0000b4" stroke-width="0.3">Ds</text>
<circle cx="1161.2" cy="1054.3" r="21.3" fill="#81c9fb" stroke="#2f5f8c" stroke-width="1"/>
<text x="1161.2" y="1047.2" font-size="14.5" fill="#0000b4" stroke="#0000b4" stroke-width="0.25">111</text>
<text x="1161.2" y="1065.6" font-size="19.2" fill="#0000b4" stroke="#0000b4" stroke-width="0.3">Rg</text>
<circle cx="1197.1" cy="996.4" r="21.3" fill="#81c9fb" stroke="#2f5f8c" stroke-width="1"/>
<text x="1197.1" y="989.6" font-size="14.5" fill="#0000b4" stroke="#0000b4" stroke-width="0.25">112</text>
<text x="1197.1" y="1008.6" font-size="19.1" fill="#0000b4" stroke="#0000b4" stroke-width="0.3">Cn</text>
<circle cx="1230.3" cy="944.4" r="21.3" fill="#81c9fb" stroke="#2f5f8c" stroke-width="1"/>
<text x="1230.3" y="937.5" font-size="14.5" fill="#0000b4" stroke="#0000b4" stroke-width="0.25">113</text>
<text x="1230.3" y="955.8" font-size="20" fill="#0000b4" stroke="#0000b4" stroke-width="0.3">Uut</text>
<circle cx="1259.3" cy="886.4" r="21.3" fill="#81c9fb" stroke="#2f5f8c" stroke-width="1"/>
<text x="1259.3" y="880.6" font-size="14.5" fill="#0000b4" stroke="#0000b4" stroke-width="0.25">114</text>
<text x="1259.3" y="899.5" font-size="19" fill="#0000b4" stroke="#0000b4" stroke-width="0.3">Fi</text>
<circle cx="1281" cy="828.4" r="21.3" fill="#81c9fb" stroke="#2f5f8c" stroke-width="1"/>
<text x="1281" y="822.0" font-size="14.5" fill="#0000b4" stroke="#0000b4" stroke-width="0.25">115</text>
<text x="1281" y="837.7" font-size="19.6" fill="#0000b4" stroke="#0000b4" stroke-width="0.3">Uup</text>
<circle cx="1295.5" cy="770.5" r="21.3" fill="#81c9fb" stroke="#2f5f8c" stroke-width="1"/>
<text x="1295.5" y="763.9" font-size="14.5" fill="#0000b4" stroke="#0000b4" stroke-width="0.25">116</text>
<text x="1295.5" y="782.5" font-size="19.4" fill="#0000b4" stroke="#0000b4" stroke-width="0.3">Lv</text>
<circle cx="1302.8" cy="712.3" r="21.3" fill="#fddcdc" stroke="#7a6a6a" stroke-width="1"/>
<text x="1302.8" y="706.3" font-size="14.5" fill="#e84a4a" stroke="#e84a4a" stroke-width="0.25">117</text>
<text x="1302.8" y="722.8" font-size="19.4" fill="#e84a4a" stroke="#e84a4a" stroke-width="0.3">Uus</text>
<circle cx="1310.4" cy="647.4" r="21.3" fill="#fa1431" stroke="#b01028" stroke-width="1"/>
<text x="1310.4" y="641.1" font-size="14.5" fill="#ffffff" font-weight="normal" stroke="#ffffff" stroke-width="0.45">118</text>
<text x="1310.4" y="658.2" font-size="17.5" fill="#ffffff" stroke="#ffffff" stroke-width="0.3">Uuo</text>
<circle cx="1168.2" cy="1259.4" r="17.4" fill="#fa1431" stroke="#b01028" stroke-width="1"/>
<text x="1194.6" y="1267.1" font-size="22" font-weight="normal" text-anchor="start" fill="#000">Edelgase</text>
<circle cx="1168.2" cy="1301.2" r="17.4" fill="#fb9696" stroke="#a04848" stroke-width="1"/>
<text x="1194.6" y="1309.0" font-size="22" font-weight="normal" text-anchor="start" fill="#000">Nichtmetalle</text>
<circle cx="1168.2" cy="1343.1" r="17.4" fill="#fbcdcd" stroke="#7a6a6a" stroke-width="1"/>
<text x="1194.6" y="1350.8" font-size="22" font-weight="normal" text-anchor="start" fill="#000">Halbmetalle</text>
<circle cx="1168.2" cy="1385.0" r="17.4" fill="#c8e8fc" stroke="#55697a" stroke-width="1"/>
<text x="1194.6" y="1392.7" font-size="22" font-weight="normal" text-anchor="start" fill="#000">Leichtmetalle</text>
<circle cx="1168.2" cy="1426.8" r="17.4" fill="#7db9fa" stroke="#2f5f8c" stroke-width="1"/>
<text x="1194.6" y="1434.5" font-size="22" font-weight="normal" text-anchor="start" fill="#000">Schwermetalle</text>
<circle cx="1168.2" cy="1468.7" r="17.4" fill="#0028c8" stroke="#0000c0" stroke-width="1"/>
<text x="1194.6" y="1476.4" font-size="22" font-weight="normal" text-anchor="start" fill="#000">Lanth./Actin.</text>
</svg>
</body></html>
